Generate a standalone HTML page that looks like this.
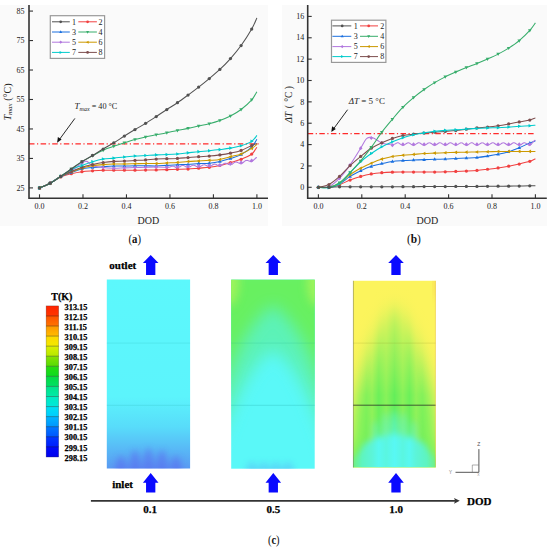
<!DOCTYPE html>
<html><head><meta charset="utf-8"><style>
html,body{margin:0;padding:0;background:#fff;width:550px;height:549px;overflow:hidden}
svg{display:block;font-family:"Liberation Serif", serif}
</style></head><body>
<svg width="550" height="549" viewBox="0 0 550 549">
<defs><linearGradient id="cb0" x1="0" y1="0" x2="0" y2="1"><stop offset="0" stop-color="#ff2400"/><stop offset="1" stop-color="#ff3600"/></linearGradient>
<linearGradient id="cb1" x1="0" y1="0" x2="0" y2="1"><stop offset="0" stop-color="#ff5100"/><stop offset="1" stop-color="#ff7600"/></linearGradient>
<linearGradient id="cb2" x1="0" y1="0" x2="0" y2="1"><stop offset="0" stop-color="#ff9800"/><stop offset="1" stop-color="#ffbd00"/></linearGradient>
<linearGradient id="cb3" x1="0" y1="0" x2="0" y2="1"><stop offset="0" stop-color="#ffd800"/><stop offset="1" stop-color="#f1ea00"/></linearGradient>
<linearGradient id="cb4" x1="0" y1="0" x2="0" y2="1"><stop offset="0" stop-color="#dcee00"/><stop offset="1" stop-color="#b3ea00"/></linearGradient>
<linearGradient id="cb5" x1="0" y1="0" x2="0" y2="1"><stop offset="0" stop-color="#88e100"/><stop offset="1" stop-color="#53dc05"/></linearGradient>
<linearGradient id="cb6" x1="0" y1="0" x2="0" y2="1"><stop offset="0" stop-color="#28dc0c"/><stop offset="1" stop-color="#0bdc23"/></linearGradient>
<linearGradient id="cb7" x1="0" y1="0" x2="0" y2="1"><stop offset="0" stop-color="#04dc40"/><stop offset="1" stop-color="#00e066"/></linearGradient>
<linearGradient id="cb8" x1="0" y1="0" x2="0" y2="1"><stop offset="0" stop-color="#00e588"/><stop offset="1" stop-color="#00e9a9"/></linearGradient>
<linearGradient id="cb9" x1="0" y1="0" x2="0" y2="1"><stop offset="0" stop-color="#00ebc0"/><stop offset="1" stop-color="#00e7db"/></linearGradient>
<linearGradient id="cb10" x1="0" y1="0" x2="0" y2="1"><stop offset="0" stop-color="#00e0f2"/><stop offset="1" stop-color="#00ccff"/></linearGradient>
<linearGradient id="cb11" x1="0" y1="0" x2="0" y2="1"><stop offset="0" stop-color="#00b5ff"/><stop offset="1" stop-color="#0095ff"/></linearGradient>
<linearGradient id="cb12" x1="0" y1="0" x2="0" y2="1"><stop offset="0" stop-color="#0078ff"/><stop offset="1" stop-color="#0055ff"/></linearGradient>
<linearGradient id="cb13" x1="0" y1="0" x2="0" y2="1"><stop offset="0" stop-color="#0038ff"/><stop offset="1" stop-color="#001cfd"/></linearGradient>
<linearGradient id="cb14" x1="0" y1="0" x2="0" y2="1"><stop offset="0" stop-color="#000afa"/><stop offset="1" stop-color="#0000ee"/></linearGradient>
<filter id="bl3" x="-30%" y="-30%" width="160%" height="160%"><feGaussianBlur stdDeviation="3"/></filter>
<filter id="bl5" x="-30%" y="-30%" width="160%" height="160%"><feGaussianBlur stdDeviation="5"/></filter>
<filter id="bl8" x="-40%" y="-40%" width="180%" height="180%"><feGaussianBlur stdDeviation="8"/></filter>
<filter id="bl2" x="-30%" y="-30%" width="160%" height="160%"><feGaussianBlur stdDeviation="1.8"/></filter>
<clipPath id="c1"><rect x="106.8" y="279.5" width="83.3" height="189"/></clipPath>
<clipPath id="c2"><rect x="231.2" y="279.8" width="83.5" height="188.9"/></clipPath>
<clipPath id="c3"><rect x="353.1" y="280.8" width="82.6" height="186.7"/></clipPath>
<linearGradient id="g1" x1="0" y1="279.5" x2="0" y2="468.5" gradientUnits="userSpaceOnUse"><stop offset="0" stop-color="#5cf8fc"/><stop offset="0.62" stop-color="#5cf4fc"/><stop offset="0.78" stop-color="#58dcfa"/><stop offset="0.9" stop-color="#58b8f6"/><stop offset="1" stop-color="#5a9af2"/></linearGradient>
<linearGradient id="s3" x1="353" y1="0" x2="436" y2="0" gradientUnits="userSpaceOnUse"><stop offset="0" stop-color="#8cf25a"/><stop offset="0.07" stop-color="#80f25a"/><stop offset="0.16" stop-color="#78f05a"/><stop offset="0.23" stop-color="#90f25a"/><stop offset="0.31" stop-color="#6cf05a"/><stop offset="0.4" stop-color="#88f25a"/><stop offset="0.5" stop-color="#64ee5a"/><stop offset="0.6" stop-color="#88f25a"/><stop offset="0.68" stop-color="#6cf05a"/><stop offset="0.76" stop-color="#90f25a"/><stop offset="0.84" stop-color="#78f05a"/><stop offset="0.92" stop-color="#80f25a"/><stop offset="1" stop-color="#8cf25a"/></linearGradient>
<linearGradient id="s3c" x1="353" y1="0" x2="436" y2="0" gradientUnits="userSpaceOnUse"><stop offset="0" stop-color="#70f080"/><stop offset="0.11" stop-color="#5ef4c0"/><stop offset="0.23" stop-color="#5cf4d8"/><stop offset="0.31" stop-color="#58f8f0"/><stop offset="0.4" stop-color="#5af6e0"/><stop offset="0.5" stop-color="#58f8f4"/><stop offset="0.6" stop-color="#5af6e0"/><stop offset="0.68" stop-color="#58f8f0"/><stop offset="0.76" stop-color="#5cf4d8"/><stop offset="0.89" stop-color="#5ef4c0"/><stop offset="1" stop-color="#70f080"/></linearGradient>
<mask id="m3g" maskUnits="userSpaceOnUse" x="340" y="270" width="110" height="210"><g filter="url(#bl8)"><path d="M330 490V450L349 440C353 400 366 340 394.4 302C423 340 436 400 440 440L459 450V490Z" fill="#fff"/></g></mask>
<mask id="m3c" maskUnits="userSpaceOnUse" x="340" y="270" width="110" height="210"><g filter="url(#bl3)" fill="#fff"><path d="M340 490V468L359 452C362 444 368 438 394.4 434C421 438 427 444 430 452L449 468V490Z"/><ellipse cx="375" cy="450" rx="3.5" ry="30" opacity="0.6"/><ellipse cx="385.5" cy="450" rx="3.5" ry="38" opacity="0.7"/><ellipse cx="394.4" cy="450" rx="3.5" ry="40" opacity="0.8"/><ellipse cx="403.5" cy="450" rx="3.5" ry="38" opacity="0.7"/><ellipse cx="414" cy="450" rx="3.5" ry="30" opacity="0.6"/></g></mask>
<linearGradient id="yw" x1="0" y1="290" x2="0" y2="395" gradientUnits="userSpaceOnUse"><stop offset="0" stop-color="#fcf45c" stop-opacity="0.75"/><stop offset="0.45" stop-color="#fcf45c" stop-opacity="0.45"/><stop offset="1" stop-color="#fcf45c" stop-opacity="0"/></linearGradient></defs>
<rect width="550" height="549" fill="#fff"/>
<rect x="0" y="5" width="268" height="221" fill="#fafafa"/><rect x="282" y="5" width="265" height="221" fill="#fafafa"/>
<line x1="29" y1="143.9" x2="258.7" y2="143.9" stroke="#FF2A2A" stroke-width="1.4" stroke-dasharray="5.5 2.5 1.2 2.4"/>
<path d="M39.5 187.9 C41.27 187.11 46.57 185 50.11 183.18 C53.65 181.37 57.18 178.57 60.72 177 C64.26 175.42 67.79 174.64 71.33 173.75 C74.87 172.87 78.4 172.18 81.94 171.69 C85.48 171.2 89.01 171.05 92.55 170.81 C96.09 170.56 99.62 170.32 103.16 170.22 C106.7 170.12 110.23 170.22 113.77 170.22 C117.31 170.22 120.84 170.22 124.38 170.22 C127.92 170.22 131.45 170.24 134.99 170.22 C138.53 170.19 142.06 170.12 145.6 170.07 C149.14 170.02 152.67 170 156.21 169.92 C159.75 169.85 163.28 169.73 166.82 169.63 C170.36 169.53 173.89 169.43 177.43 169.33 C180.97 169.24 184.5 169.24 188.04 169.04 C191.58 168.84 195.11 168.45 198.65 168.16 C202.19 167.86 205.72 167.71 209.26 167.27 C212.8 166.83 216.33 166.29 219.87 165.5 C223.41 164.72 226.94 163.59 230.48 162.56 C234.02 161.52 237.55 160.74 241.09 159.31 C244.63 157.89 249.06 156.02 251.7 154.01 C254.33 152 256.03 148.36 256.9 147.23" fill="none" stroke="#F14040" stroke-width="1.05"/>
<circle cx="39.5" cy="187.9" r="1.62" fill="#F14040"/>
<circle cx="50.11" cy="183.18" r="1.62" fill="#F14040"/>
<circle cx="60.72" cy="177" r="1.62" fill="#F14040"/>
<circle cx="71.33" cy="173.75" r="1.62" fill="#F14040"/>
<circle cx="81.94" cy="171.69" r="1.62" fill="#F14040"/>
<circle cx="92.55" cy="170.81" r="1.62" fill="#F14040"/>
<circle cx="103.16" cy="170.22" r="1.62" fill="#F14040"/>
<circle cx="113.77" cy="170.22" r="1.62" fill="#F14040"/>
<circle cx="124.38" cy="170.22" r="1.62" fill="#F14040"/>
<circle cx="134.99" cy="170.22" r="1.62" fill="#F14040"/>
<circle cx="145.6" cy="170.07" r="1.62" fill="#F14040"/>
<circle cx="156.21" cy="169.92" r="1.62" fill="#F14040"/>
<circle cx="166.82" cy="169.63" r="1.62" fill="#F14040"/>
<circle cx="177.43" cy="169.33" r="1.62" fill="#F14040"/>
<circle cx="188.04" cy="169.04" r="1.62" fill="#F14040"/>
<circle cx="198.65" cy="168.16" r="1.62" fill="#F14040"/>
<circle cx="209.26" cy="167.27" r="1.62" fill="#F14040"/>
<circle cx="219.87" cy="165.5" r="1.62" fill="#F14040"/>
<circle cx="230.48" cy="162.56" r="1.62" fill="#F14040"/>
<circle cx="241.09" cy="159.31" r="1.62" fill="#F14040"/>
<circle cx="251.7" cy="154.01" r="1.62" fill="#F14040"/>
<path d="M39.5 187.9 C41.27 187.11 46.57 185.1 50.11 183.18 C53.65 181.27 57.18 178.17 60.72 176.41 C64.26 174.64 67.79 173.85 71.33 172.58 C74.87 171.3 78.4 169.58 81.94 168.74 C85.48 167.91 89.01 167.91 92.55 167.57 C96.09 167.22 99.62 166.93 103.16 166.68 C106.7 166.44 110.23 166.19 113.77 166.09 C117.31 165.99 120.84 166.14 124.38 166.09 C127.92 166.04 131.45 165.85 134.99 165.8 C138.53 165.75 142.06 165.77 145.6 165.8 C149.14 165.82 152.67 166.02 156.21 165.94 C159.75 165.87 163.28 165.55 166.82 165.36 C170.36 165.16 173.89 164.91 177.43 164.77 C180.97 164.62 184.5 164.67 188.04 164.47 C191.58 164.27 195.11 163.81 198.65 163.59 C202.19 163.37 205.72 163.49 209.26 163.15 C212.8 162.8 216.33 162.31 219.87 161.52 C223.41 160.74 226.94 159.58 230.48 158.43 C234.02 157.28 237.55 156.47 241.09 154.6 C244.63 152.73 249.06 149.79 251.7 147.23 C254.33 144.68 256.03 140.6 256.9 139.27" fill="none" stroke="#1A6FDF" stroke-width="1.05"/>
<path d="M39.5 185.92L41.3 189.16L37.7 189.16Z" fill="#1A6FDF"/>
<path d="M50.11 181.2L51.91 184.44L48.31 184.44Z" fill="#1A6FDF"/>
<path d="M60.72 174.43L62.52 177.67L58.92 177.67Z" fill="#1A6FDF"/>
<path d="M71.33 170.6L73.13 173.84L69.53 173.84Z" fill="#1A6FDF"/>
<path d="M81.94 166.76L83.74 170L80.14 170Z" fill="#1A6FDF"/>
<path d="M92.55 165.59L94.35 168.83L90.75 168.83Z" fill="#1A6FDF"/>
<path d="M103.16 164.7L104.96 167.94L101.36 167.94Z" fill="#1A6FDF"/>
<path d="M113.77 164.11L115.57 167.35L111.97 167.35Z" fill="#1A6FDF"/>
<path d="M124.38 164.11L126.18 167.35L122.58 167.35Z" fill="#1A6FDF"/>
<path d="M134.99 163.82L136.79 167.06L133.19 167.06Z" fill="#1A6FDF"/>
<path d="M145.6 163.82L147.4 167.06L143.8 167.06Z" fill="#1A6FDF"/>
<path d="M156.21 163.96L158.01 167.2L154.41 167.2Z" fill="#1A6FDF"/>
<path d="M166.82 163.38L168.62 166.62L165.02 166.62Z" fill="#1A6FDF"/>
<path d="M177.43 162.79L179.23 166.03L175.63 166.03Z" fill="#1A6FDF"/>
<path d="M188.04 162.49L189.84 165.73L186.24 165.73Z" fill="#1A6FDF"/>
<path d="M198.65 161.61L200.45 164.85L196.85 164.85Z" fill="#1A6FDF"/>
<path d="M209.26 161.17L211.06 164.41L207.46 164.41Z" fill="#1A6FDF"/>
<path d="M219.87 159.54L221.67 162.78L218.07 162.78Z" fill="#1A6FDF"/>
<path d="M230.48 156.45L232.28 159.69L228.68 159.69Z" fill="#1A6FDF"/>
<path d="M241.09 152.62L242.89 155.86L239.29 155.86Z" fill="#1A6FDF"/>
<path d="M251.7 145.25L253.5 148.49L249.9 148.49Z" fill="#1A6FDF"/>
<path d="M39.5 187.9 C41.27 187.11 46.57 185.1 50.11 183.18 C53.65 181.27 57.18 178.47 60.72 176.41 C64.26 174.34 67.79 173.02 71.33 170.81 C74.87 168.6 79.38 164.72 81.94 163.15 C84.5 161.57 84.95 160.93 86.71 161.38 C88.48 161.82 89.81 164.77 92.55 165.8 C95.29 166.83 99.62 167.17 103.16 167.57 C106.7 167.96 110.23 168.11 113.77 168.16 C117.31 168.2 120.84 167.96 124.38 167.86 C127.92 167.76 131.45 167.66 134.99 167.57 C138.53 167.47 142.06 167.37 145.6 167.27 C149.14 167.17 152.51 166.97 156.21 166.98 C159.91 166.99 165.72 167.28 167.82 167.33 C169.92 167.38 168.49 167.32 168.82 167.26 C169.15 167.21 169.49 167.12 169.82 167.02 C170.15 166.92 170.49 166.77 170.82 166.66 C171.15 166.54 171.49 166.4 171.82 166.32 C172.15 166.24 172.49 166.17 172.82 166.18 C173.15 166.19 173.49 166.25 173.82 166.37 C174.15 166.48 174.49 166.68 174.82 166.85 C175.15 167.03 175.49 167.26 175.82 167.41 C176.15 167.56 176.49 167.69 176.82 167.74 C177.15 167.8 177.49 167.8 177.82 167.74 C178.15 167.68 178.49 167.55 178.82 167.39 C179.15 167.23 179.49 167 179.82 166.79 C180.15 166.57 180.49 166.32 180.82 166.12 C181.15 165.93 181.49 165.73 181.82 165.62 C182.15 165.5 182.49 165.43 182.82 165.43 C183.15 165.43 183.49 165.51 183.82 165.62 C184.15 165.74 184.49 165.93 184.82 166.11 C185.15 166.3 185.49 166.54 185.82 166.73 C186.15 166.92 186.49 167.12 186.82 167.25 C187.15 167.37 187.49 167.47 187.82 167.48 C188.15 167.5 188.49 167.45 188.82 167.35 C189.15 167.25 189.49 167.07 189.82 166.88 C190.15 166.69 190.49 166.44 190.82 166.23 C191.15 166.01 191.49 165.77 191.82 165.6 C192.15 165.43 192.49 165.28 192.82 165.21 C193.15 165.13 193.49 165.12 193.82 165.17 C194.15 165.22 194.49 165.34 194.82 165.49 C195.15 165.64 195.49 165.86 195.82 166.06 C196.15 166.25 196.49 166.49 196.82 166.66 C197.15 166.83 197.49 167 197.82 167.09 C198.15 167.17 198.49 167.21 198.82 167.18 C199.15 167.14 199.49 167.02 199.82 166.87 C200.15 166.72 200.49 166.5 200.82 166.28 C201.15 166.07 201.49 165.8 201.82 165.58 C202.15 165.37 202.49 165.15 202.82 165 C203.15 164.85 203.49 164.74 203.82 164.71 C204.15 164.67 204.49 164.71 204.82 164.79 C205.15 164.87 205.49 165.04 205.82 165.2 C206.15 165.36 206.49 165.59 206.82 165.78 C207.15 165.96 207.49 166.17 207.82 166.31 C208.15 166.44 208.49 166.56 208.82 166.59 C209.15 166.62 209.49 166.6 209.82 166.51 C210.15 166.43 210.49 166.26 210.82 166.08 C211.15 165.9 211.49 165.64 211.82 165.42 C212.15 165.2 212.49 164.94 212.82 164.74 C213.15 164.55 213.49 164.36 213.82 164.25 C214.15 164.15 214.49 164.09 214.82 164.11 C215.15 164.12 215.49 164.21 215.82 164.33 C216.15 164.45 216.49 164.65 216.82 164.83 C217.15 165.01 217.49 165.24 217.82 165.41 C218.15 165.58 218.49 165.77 218.82 165.87 C219.15 165.97 219.49 166.04 219.82 166.02 C220.15 165.99 220.49 165.88 220.82 165.74 C221.15 165.59 221.49 165.37 221.82 165.14 C222.15 164.92 222.49 164.63 222.82 164.39 C223.15 164.15 223.49 163.89 223.82 163.71 C224.15 163.53 224.49 163.37 224.82 163.29 C225.15 163.21 225.49 163.19 225.82 163.23 C226.15 163.27 226.49 163.39 226.82 163.52 C227.15 163.66 227.49 163.86 227.82 164.03 C228.15 164.19 228.49 164.4 228.82 164.53 C229.15 164.66 229.49 164.78 229.82 164.82 C230.15 164.87 230.49 164.85 230.82 164.77 C231.15 164.7 231.49 164.54 231.82 164.36 C232.15 164.17 232.49 163.92 232.82 163.68 C233.15 163.44 233.49 163.15 233.82 162.93 C234.15 162.7 234.49 162.47 234.82 162.33 C235.15 162.18 235.49 162.07 235.82 162.04 C236.15 162.01 236.49 162.05 236.82 162.13 C237.15 162.21 237.49 162.37 237.82 162.53 C238.15 162.68 238.49 162.89 238.82 163.06 C239.15 163.22 239.49 163.4 239.82 163.5 C240.15 163.6 240.49 163.69 240.82 163.67 C241.15 163.66 241.49 163.56 241.82 163.41 C242.15 163.27 242.49 163.03 242.82 162.79 C243.15 162.55 243.49 162.24 243.82 161.97 C244.15 161.71 244.49 161.4 244.82 161.18 C245.15 160.95 245.49 160.73 245.82 160.6 C246.15 160.47 246.49 160.39 246.82 160.38 C247.15 160.36 247.49 160.43 247.82 160.52 C248.15 160.6 248.49 160.77 248.82 160.91 C249.15 161.04 249.49 161.23 249.82 161.34 C250.15 161.46 250.49 161.58 250.82 161.62 C251.15 161.65 251.49 161.66 251.82 161.54 C252.15 161.43 252.49 161.17 252.82 160.92 C253.15 160.66 253.49 160.32 253.82 159.99 C254.15 159.67 254.49 159.28 254.82 158.95 C255.15 158.63 255.49 158.28 255.82 158.02 C256.15 157.75 256.65 157.48 256.82 157.37" fill="none" stroke="#B177DE" stroke-width="1.05"/>
<path d="M39.5 185.92L41.3 187.9L39.5 189.88L37.7 187.9Z" fill="#B177DE"/>
<path d="M50.11 181.2L51.91 183.18L50.11 185.16L48.31 183.18Z" fill="#B177DE"/>
<path d="M60.72 174.43L62.52 176.41L60.72 178.39L58.92 176.41Z" fill="#B177DE"/>
<path d="M71.33 168.83L73.13 170.81L71.33 172.79L69.53 170.81Z" fill="#B177DE"/>
<path d="M81.94 161.17L83.74 163.15L81.94 165.13L80.14 163.15Z" fill="#B177DE"/>
<path d="M92.55 163.82L94.35 165.8L92.55 167.78L90.75 165.8Z" fill="#B177DE"/>
<path d="M103.16 165.59L104.96 167.57L103.16 169.55L101.36 167.57Z" fill="#B177DE"/>
<path d="M113.77 166.18L115.57 168.16L113.77 170.14L111.97 168.16Z" fill="#B177DE"/>
<path d="M124.38 165.88L126.18 167.86L124.38 169.84L122.58 167.86Z" fill="#B177DE"/>
<path d="M134.99 165.59L136.79 167.57L134.99 169.55L133.19 167.57Z" fill="#B177DE"/>
<path d="M145.6 165.29L147.4 167.27L145.6 169.25L143.8 167.27Z" fill="#B177DE"/>
<path d="M156.21 165L158.01 166.98L156.21 168.96L154.41 166.98Z" fill="#B177DE"/>
<path d="M166.82 165.29L168.62 167.27L166.82 169.25L165.02 167.27Z" fill="#B177DE"/>
<path d="M177.43 164.7L179.23 166.68L177.43 168.66L175.63 166.68Z" fill="#B177DE"/>
<path d="M188.04 164.41L189.84 166.39L188.04 168.37L186.24 166.39Z" fill="#B177DE"/>
<path d="M198.65 164.11L200.45 166.09L198.65 168.07L196.85 166.09Z" fill="#B177DE"/>
<path d="M209.26 163.52L211.06 165.5L209.26 167.48L207.46 165.5Z" fill="#B177DE"/>
<path d="M219.87 162.93L221.67 164.91L219.87 166.89L218.07 164.91Z" fill="#B177DE"/>
<path d="M230.48 161.75L232.28 163.73L230.48 165.71L228.68 163.73Z" fill="#B177DE"/>
<path d="M241.09 160.58L242.89 162.56L241.09 164.54L239.29 162.56Z" fill="#B177DE"/>
<path d="M251.7 158.51L253.5 160.49L251.7 162.47L249.9 160.49Z" fill="#B177DE"/>
<path d="M39.5 187.9 C41.27 187.11 46.57 185.1 50.11 183.18 C53.65 181.27 57.18 178.27 60.72 176.41 C64.26 174.54 67.79 173.36 71.33 171.99 C74.87 170.61 78.4 169.19 81.94 168.16 C85.48 167.12 89.01 166.39 92.55 165.8 C96.09 165.21 99.62 164.91 103.16 164.62 C106.7 164.32 110.23 164.13 113.77 164.03 C117.31 163.93 120.84 164.08 124.38 164.03 C127.92 163.98 131.45 163.83 134.99 163.73 C138.53 163.64 142.06 163.46 145.6 163.44 C149.14 163.42 152.67 163.66 156.21 163.59 C159.75 163.51 163.28 163.19 166.82 163 C170.36 162.8 173.89 162.65 177.43 162.41 C180.97 162.16 184.5 161.77 188.04 161.52 C191.58 161.28 195.11 161.13 198.65 160.93 C202.19 160.74 205.72 160.59 209.26 160.35 C212.8 160.1 216.33 160.08 219.87 159.46 C223.41 158.85 226.94 157.57 230.48 156.66 C234.02 155.75 237.55 155.38 241.09 154.01 C244.63 152.63 249.06 150.03 251.7 148.41 C254.33 146.79 256.03 144.97 256.9 144.28" fill="none" stroke="#CC9900" stroke-width="1.05"/>
<path d="M37.52 187.9L40.76 186.1L40.76 189.7Z" fill="#CC9900"/>
<path d="M48.13 183.18L51.37 181.38L51.37 184.98Z" fill="#CC9900"/>
<path d="M58.74 176.41L61.98 174.61L61.98 178.21Z" fill="#CC9900"/>
<path d="M69.35 171.99L72.59 170.19L72.59 173.79Z" fill="#CC9900"/>
<path d="M79.96 168.16L83.2 166.36L83.2 169.96Z" fill="#CC9900"/>
<path d="M90.57 165.8L93.81 164L93.81 167.6Z" fill="#CC9900"/>
<path d="M101.18 164.62L104.42 162.82L104.42 166.42Z" fill="#CC9900"/>
<path d="M111.79 164.03L115.03 162.23L115.03 165.83Z" fill="#CC9900"/>
<path d="M122.4 164.03L125.64 162.23L125.64 165.83Z" fill="#CC9900"/>
<path d="M133.01 163.73L136.25 161.93L136.25 165.53Z" fill="#CC9900"/>
<path d="M143.62 163.44L146.86 161.64L146.86 165.24Z" fill="#CC9900"/>
<path d="M154.23 163.59L157.47 161.79L157.47 165.39Z" fill="#CC9900"/>
<path d="M164.84 163L168.08 161.2L168.08 164.8Z" fill="#CC9900"/>
<path d="M175.45 162.41L178.69 160.61L178.69 164.21Z" fill="#CC9900"/>
<path d="M186.06 161.52L189.3 159.72L189.3 163.32Z" fill="#CC9900"/>
<path d="M196.67 160.93L199.91 159.13L199.91 162.73Z" fill="#CC9900"/>
<path d="M207.28 160.35L210.52 158.55L210.52 162.15Z" fill="#CC9900"/>
<path d="M217.89 159.46L221.13 157.66L221.13 161.26Z" fill="#CC9900"/>
<path d="M228.5 156.66L231.74 154.86L231.74 158.46Z" fill="#CC9900"/>
<path d="M239.11 154.01L242.35 152.21L242.35 155.81Z" fill="#CC9900"/>
<path d="M249.72 148.41L252.96 146.61L252.96 150.21Z" fill="#CC9900"/>
<path d="M39.5 187.9 C41.27 187.11 46.57 185.1 50.11 183.18 C53.65 181.27 57.18 178.37 60.72 176.41 C64.26 174.44 67.79 172.92 71.33 171.4 C74.87 169.87 78.4 168.4 81.94 167.27 C85.48 166.14 89.01 165.4 92.55 164.62 C96.09 163.83 99.62 163.1 103.16 162.56 C106.7 162.02 110.23 161.62 113.77 161.38 C117.31 161.13 120.84 161.23 124.38 161.08 C127.92 160.93 131.45 160.69 134.99 160.49 C138.53 160.3 142.06 160.15 145.6 159.9 C149.14 159.66 152.67 159.22 156.21 159.02 C159.75 158.82 163.28 158.82 166.82 158.72 C170.36 158.63 173.89 158.63 177.43 158.43 C180.97 158.23 184.5 157.84 188.04 157.55 C191.58 157.25 195.11 156.91 198.65 156.66 C202.19 156.42 205.72 156.37 209.26 156.07 C212.8 155.78 216.33 155.38 219.87 154.89 C223.41 154.4 226.94 153.86 230.48 153.13 C234.02 152.39 237.55 151.75 241.09 150.47 C244.63 149.2 249.06 146.64 251.7 145.46 C254.33 144.28 256.03 143.74 256.9 143.4" fill="none" stroke="#7D4E4E" stroke-width="1.05"/>
<circle cx="39.5" cy="187.9" r="1.62" fill="#7D4E4E"/>
<circle cx="50.11" cy="183.18" r="1.62" fill="#7D4E4E"/>
<circle cx="60.72" cy="176.41" r="1.62" fill="#7D4E4E"/>
<circle cx="71.33" cy="171.4" r="1.62" fill="#7D4E4E"/>
<circle cx="81.94" cy="167.27" r="1.62" fill="#7D4E4E"/>
<circle cx="92.55" cy="164.62" r="1.62" fill="#7D4E4E"/>
<circle cx="103.16" cy="162.56" r="1.62" fill="#7D4E4E"/>
<circle cx="113.77" cy="161.38" r="1.62" fill="#7D4E4E"/>
<circle cx="124.38" cy="161.08" r="1.62" fill="#7D4E4E"/>
<circle cx="134.99" cy="160.49" r="1.62" fill="#7D4E4E"/>
<circle cx="145.6" cy="159.9" r="1.62" fill="#7D4E4E"/>
<circle cx="156.21" cy="159.02" r="1.62" fill="#7D4E4E"/>
<circle cx="166.82" cy="158.72" r="1.62" fill="#7D4E4E"/>
<circle cx="177.43" cy="158.43" r="1.62" fill="#7D4E4E"/>
<circle cx="188.04" cy="157.55" r="1.62" fill="#7D4E4E"/>
<circle cx="198.65" cy="156.66" r="1.62" fill="#7D4E4E"/>
<circle cx="209.26" cy="156.07" r="1.62" fill="#7D4E4E"/>
<circle cx="219.87" cy="154.89" r="1.62" fill="#7D4E4E"/>
<circle cx="230.48" cy="153.13" r="1.62" fill="#7D4E4E"/>
<circle cx="241.09" cy="150.47" r="1.62" fill="#7D4E4E"/>
<circle cx="251.7" cy="145.46" r="1.62" fill="#7D4E4E"/>
<path d="M39.5 187.9 C41.27 187.11 46.57 185.1 50.11 183.18 C53.65 181.27 57.18 178.67 60.72 176.41 C64.26 174.15 67.79 171.45 71.33 169.63 C74.87 167.81 78.4 166.83 81.94 165.5 C85.48 164.18 89.01 162.75 92.55 161.67 C96.09 160.59 99.62 159.61 103.16 159.02 C106.7 158.43 110.23 158.48 113.77 158.14 C117.31 157.79 120.84 157.3 124.38 156.96 C127.92 156.61 131.45 156.32 134.99 156.07 C138.53 155.83 142.06 155.68 145.6 155.48 C149.14 155.29 152.67 155.04 156.21 154.89 C159.75 154.75 163.28 154.75 166.82 154.6 C170.36 154.45 173.89 154.3 177.43 154.01 C180.97 153.71 184.5 153.22 188.04 152.83 C191.58 152.44 195.11 152 198.65 151.65 C202.19 151.31 205.72 151.11 209.26 150.77 C212.8 150.42 216.33 150.03 219.87 149.59 C223.41 149.15 226.94 148.75 230.48 148.12 C234.02 147.48 237.55 146.89 241.09 145.76 C244.63 144.63 249.06 143.06 251.7 141.34 C254.33 139.62 256.03 136.43 256.9 135.44" fill="none" stroke="#00CBCC" stroke-width="1.05"/>
<path d="M41.48 187.9L38.24 186.1L38.24 189.7Z" fill="#00CBCC"/>
<path d="M52.09 183.18L48.85 181.38L48.85 184.98Z" fill="#00CBCC"/>
<path d="M62.7 176.41L59.46 174.61L59.46 178.21Z" fill="#00CBCC"/>
<path d="M73.31 169.63L70.07 167.83L70.07 171.43Z" fill="#00CBCC"/>
<path d="M83.92 165.5L80.68 163.7L80.68 167.3Z" fill="#00CBCC"/>
<path d="M94.53 161.67L91.29 159.87L91.29 163.47Z" fill="#00CBCC"/>
<path d="M105.14 159.02L101.9 157.22L101.9 160.82Z" fill="#00CBCC"/>
<path d="M115.75 158.14L112.51 156.34L112.51 159.94Z" fill="#00CBCC"/>
<path d="M126.36 156.96L123.12 155.16L123.12 158.76Z" fill="#00CBCC"/>
<path d="M136.97 156.07L133.73 154.27L133.73 157.87Z" fill="#00CBCC"/>
<path d="M147.58 155.48L144.34 153.68L144.34 157.28Z" fill="#00CBCC"/>
<path d="M158.19 154.89L154.95 153.09L154.95 156.69Z" fill="#00CBCC"/>
<path d="M168.8 154.6L165.56 152.8L165.56 156.4Z" fill="#00CBCC"/>
<path d="M179.41 154.01L176.17 152.21L176.17 155.81Z" fill="#00CBCC"/>
<path d="M190.02 152.83L186.78 151.03L186.78 154.63Z" fill="#00CBCC"/>
<path d="M200.63 151.65L197.39 149.85L197.39 153.45Z" fill="#00CBCC"/>
<path d="M211.24 150.77L208 148.97L208 152.57Z" fill="#00CBCC"/>
<path d="M221.85 149.59L218.61 147.79L218.61 151.39Z" fill="#00CBCC"/>
<path d="M232.46 148.12L229.22 146.32L229.22 149.92Z" fill="#00CBCC"/>
<path d="M243.07 145.76L239.83 143.96L239.83 147.56Z" fill="#00CBCC"/>
<path d="M253.68 141.34L250.44 139.54L250.44 143.14Z" fill="#00CBCC"/>
<path d="M39.5 187.9 C41.27 187.11 46.57 185.1 50.11 183.18 C53.65 181.27 57.18 178.76 60.72 176.41 C64.26 174.05 67.79 171.5 71.33 169.04 C74.87 166.58 78.4 163.88 81.94 161.67 C85.48 159.46 89.01 157.69 92.55 155.78 C96.09 153.86 99.62 151.75 103.16 150.18 C106.7 148.61 110.23 147.58 113.77 146.35 C117.31 145.12 120.84 143.94 124.38 142.81 C127.92 141.68 131.45 140.55 134.99 139.57 C138.53 138.59 142.06 137.7 145.6 136.92 C149.14 136.13 152.67 135.54 156.21 134.85 C159.75 134.17 163.28 133.53 166.82 132.79 C170.36 132.05 173.89 131.17 177.43 130.43 C180.97 129.7 184.5 129.11 188.04 128.37 C191.58 127.63 195.11 126.8 198.65 126.01 C202.19 125.23 205.72 124.59 209.26 123.66 C212.8 122.72 216.33 121.69 219.87 120.41 C223.41 119.14 226.94 117.81 230.48 115.99 C234.02 114.18 237.55 112.21 241.09 109.51 C244.63 106.81 249.06 102.73 251.7 99.78 C254.33 96.84 256.03 93.15 256.9 91.83" fill="none" stroke="#37AD6B" stroke-width="1.05"/>
<path d="M39.5 189.88L41.3 186.64L37.7 186.64Z" fill="#37AD6B"/>
<path d="M50.11 185.16L51.91 181.92L48.31 181.92Z" fill="#37AD6B"/>
<path d="M60.72 178.39L62.52 175.15L58.92 175.15Z" fill="#37AD6B"/>
<path d="M71.33 171.02L73.13 167.78L69.53 167.78Z" fill="#37AD6B"/>
<path d="M81.94 163.65L83.74 160.41L80.14 160.41Z" fill="#37AD6B"/>
<path d="M92.55 157.76L94.35 154.52L90.75 154.52Z" fill="#37AD6B"/>
<path d="M103.16 152.16L104.96 148.92L101.36 148.92Z" fill="#37AD6B"/>
<path d="M113.77 148.33L115.57 145.09L111.97 145.09Z" fill="#37AD6B"/>
<path d="M124.38 144.79L126.18 141.55L122.58 141.55Z" fill="#37AD6B"/>
<path d="M134.99 141.55L136.79 138.31L133.19 138.31Z" fill="#37AD6B"/>
<path d="M145.6 138.9L147.4 135.66L143.8 135.66Z" fill="#37AD6B"/>
<path d="M156.21 136.83L158.01 133.59L154.41 133.59Z" fill="#37AD6B"/>
<path d="M166.82 134.77L168.62 131.53L165.02 131.53Z" fill="#37AD6B"/>
<path d="M177.43 132.41L179.23 129.17L175.63 129.17Z" fill="#37AD6B"/>
<path d="M188.04 130.35L189.84 127.11L186.24 127.11Z" fill="#37AD6B"/>
<path d="M198.65 127.99L200.45 124.75L196.85 124.75Z" fill="#37AD6B"/>
<path d="M209.26 125.64L211.06 122.4L207.46 122.4Z" fill="#37AD6B"/>
<path d="M219.87 122.39L221.67 119.15L218.07 119.15Z" fill="#37AD6B"/>
<path d="M230.48 117.97L232.28 114.73L228.68 114.73Z" fill="#37AD6B"/>
<path d="M241.09 111.49L242.89 108.25L239.29 108.25Z" fill="#37AD6B"/>
<path d="M251.7 101.76L253.5 98.52L249.9 98.52Z" fill="#37AD6B"/>
<path d="M39.5 187.9 C41.27 187.11 46.57 185.1 50.11 183.18 C53.65 181.27 57.18 178.76 60.72 176.41 C64.26 174.05 67.79 171.5 71.33 169.04 C74.87 166.58 78.4 163.93 81.94 161.67 C85.48 159.41 89.01 157.6 92.55 155.48 C96.09 153.37 99.62 151.11 103.16 149 C106.7 146.89 110.23 144.97 113.77 142.81 C117.31 140.65 120.84 138.24 124.38 136.03 C127.92 133.82 131.45 131.66 134.99 129.55 C138.53 127.44 142.06 125.52 145.6 123.36 C149.14 121.2 152.67 118.89 156.21 116.58 C159.75 114.27 163.28 111.82 166.82 109.51 C170.36 107.2 173.89 105.14 177.43 102.73 C180.97 100.32 184.5 97.67 188.04 95.07 C191.58 92.47 195.11 89.86 198.65 87.11 C202.19 84.36 205.72 81.51 209.26 78.57 C212.8 75.62 216.33 72.77 219.87 69.43 C223.41 66.09 226.94 62.51 230.48 58.53 C234.02 54.55 237.55 50.47 241.09 45.56 C244.63 40.65 249.06 33.67 251.7 29.06 C254.33 24.44 256.03 19.72 256.9 17.86" fill="none" stroke="#515151" stroke-width="1.05"/>
<circle cx="39.5" cy="187.9" r="1.62" fill="#515151"/>
<circle cx="50.11" cy="183.18" r="1.62" fill="#515151"/>
<circle cx="60.72" cy="176.41" r="1.62" fill="#515151"/>
<circle cx="71.33" cy="169.04" r="1.62" fill="#515151"/>
<circle cx="81.94" cy="161.67" r="1.62" fill="#515151"/>
<circle cx="92.55" cy="155.48" r="1.62" fill="#515151"/>
<circle cx="103.16" cy="149" r="1.62" fill="#515151"/>
<circle cx="113.77" cy="142.81" r="1.62" fill="#515151"/>
<circle cx="124.38" cy="136.03" r="1.62" fill="#515151"/>
<circle cx="134.99" cy="129.55" r="1.62" fill="#515151"/>
<circle cx="145.6" cy="123.36" r="1.62" fill="#515151"/>
<circle cx="156.21" cy="116.58" r="1.62" fill="#515151"/>
<circle cx="166.82" cy="109.51" r="1.62" fill="#515151"/>
<circle cx="177.43" cy="102.73" r="1.62" fill="#515151"/>
<circle cx="188.04" cy="95.07" r="1.62" fill="#515151"/>
<circle cx="198.65" cy="87.11" r="1.62" fill="#515151"/>
<circle cx="209.26" cy="78.57" r="1.62" fill="#515151"/>
<circle cx="219.87" cy="69.43" r="1.62" fill="#515151"/>
<circle cx="230.48" cy="58.53" r="1.62" fill="#515151"/>
<circle cx="241.09" cy="45.56" r="1.62" fill="#515151"/>
<circle cx="251.7" cy="29.06" r="1.62" fill="#515151"/>
<path d="M29 5V198.3H268" fill="none" stroke="#333" stroke-width="1.6"/>
<line x1="29" y1="187.9" x2="33" y2="187.9" stroke="#333" stroke-width="1.1"/>
<text x="24.5" y="190.6" text-anchor="end" font-size="8" fill="#222">25</text>
<line x1="29" y1="158.43" x2="33" y2="158.43" stroke="#333" stroke-width="1.1"/>
<text x="24.5" y="161.13" text-anchor="end" font-size="8" fill="#222">35</text>
<line x1="29" y1="128.96" x2="33" y2="128.96" stroke="#333" stroke-width="1.1"/>
<text x="24.5" y="131.66" text-anchor="end" font-size="8" fill="#222">45</text>
<line x1="29" y1="99.49" x2="33" y2="99.49" stroke="#333" stroke-width="1.1"/>
<text x="24.5" y="102.19" text-anchor="end" font-size="8" fill="#222">55</text>
<line x1="29" y1="70.02" x2="33" y2="70.02" stroke="#333" stroke-width="1.1"/>
<text x="24.5" y="72.72" text-anchor="end" font-size="8" fill="#222">65</text>
<line x1="29" y1="40.55" x2="33" y2="40.55" stroke="#333" stroke-width="1.1"/>
<text x="24.5" y="43.25" text-anchor="end" font-size="8" fill="#222">75</text>
<line x1="29" y1="11.08" x2="33" y2="11.08" stroke="#333" stroke-width="1.1"/>
<text x="24.5" y="13.78" text-anchor="end" font-size="8" fill="#222">85</text>
<line x1="39.5" y1="198.3" x2="39.5" y2="194.3" stroke="#333" stroke-width="1.1"/>
<text x="39.5" y="208.6" text-anchor="middle" font-size="8" fill="#222">0.0</text>
<line x1="82.98" y1="198.3" x2="82.98" y2="194.3" stroke="#333" stroke-width="1.1"/>
<text x="82.98" y="208.6" text-anchor="middle" font-size="8" fill="#222">0.2</text>
<line x1="126.46" y1="198.3" x2="126.46" y2="194.3" stroke="#333" stroke-width="1.1"/>
<text x="126.46" y="208.6" text-anchor="middle" font-size="8" fill="#222">0.4</text>
<line x1="169.94" y1="198.3" x2="169.94" y2="194.3" stroke="#333" stroke-width="1.1"/>
<text x="169.94" y="208.6" text-anchor="middle" font-size="8" fill="#222">0.6</text>
<line x1="213.42" y1="198.3" x2="213.42" y2="194.3" stroke="#333" stroke-width="1.1"/>
<text x="213.42" y="208.6" text-anchor="middle" font-size="8" fill="#222">0.8</text>
<line x1="256.9" y1="198.3" x2="256.9" y2="194.3" stroke="#333" stroke-width="1.1"/>
<text x="256.9" y="208.6" text-anchor="middle" font-size="8" fill="#222">1.0</text>
<text x="148.3" y="224.2" text-anchor="middle" font-size="10" fill="#222">DOD</text>
<text x="128.5" y="242.9" font-size="12.5" fill="#111" textLength="12.5" lengthAdjust="spacingAndGlyphs">(<tspan font-weight="bold">a</tspan>)</text>
<g transform="translate(10.6,102) rotate(-90)"><text x="0" y="0" text-anchor="middle" font-size="10" fill="#222"><tspan font-style="italic">T</tspan><tspan font-style="italic" font-size="7" dy="1.8">max</tspan><tspan dy="-1.8"> (°C)</tspan></text></g>
<text x="74.6" y="109.3" font-size="9" fill="#222"><tspan font-style="italic">T</tspan><tspan font-style="italic" font-size="6" dy="1.5">max</tspan><tspan dy="-1.5" font-size="8.2"> = 40 °C</tspan></text>
<line x1="74.9" y1="118.4" x2="59.5" y2="139.4" stroke="#111" stroke-width="0.9"/>
<path d="M57.1 142.7L57.9 136.9L61.6 139.6Z" fill="#111"/>
<rect x="50.3" y="15.7" width="54.3" height="42.7" fill="#fff" stroke="#999" stroke-width="1.2"/>
<line x1="52" y1="21.8" x2="69.8" y2="21.8" stroke="#515151" stroke-width="1"/>
<circle cx="60.7" cy="21.8" r="1.35" fill="#515151"/>
<text x="72" y="24.6" font-size="8" fill="#222">1</text>
<line x1="78.3" y1="21.8" x2="96.9" y2="21.8" stroke="#F14040" stroke-width="1"/>
<circle cx="87.6" cy="21.8" r="1.35" fill="#F14040"/>
<text x="98.5" y="24.6" font-size="8" fill="#222">2</text>
<line x1="52" y1="32" x2="69.8" y2="32" stroke="#1A6FDF" stroke-width="1"/>
<path d="M60.7 30.35L62.2 33.05L59.2 33.05Z" fill="#1A6FDF"/>
<text x="72" y="34.8" font-size="8" fill="#222">3</text>
<line x1="78.3" y1="32" x2="96.9" y2="32" stroke="#37AD6B" stroke-width="1"/>
<path d="M87.6 33.65L89.1 30.95L86.1 30.95Z" fill="#37AD6B"/>
<text x="98.5" y="34.8" font-size="8" fill="#222">4</text>
<line x1="52" y1="42.2" x2="69.8" y2="42.2" stroke="#B177DE" stroke-width="1"/>
<path d="M60.7 40.55L62.2 42.2L60.7 43.85L59.2 42.2Z" fill="#B177DE"/>
<text x="72" y="45" font-size="8" fill="#222">5</text>
<line x1="78.3" y1="42.2" x2="96.9" y2="42.2" stroke="#CC9900" stroke-width="1"/>
<path d="M85.95 42.2L88.65 40.7L88.65 43.7Z" fill="#CC9900"/>
<text x="98.5" y="45" font-size="8" fill="#222">6</text>
<line x1="52" y1="52.4" x2="69.8" y2="52.4" stroke="#00CBCC" stroke-width="1"/>
<path d="M62.35 52.4L59.65 50.9L59.65 53.9Z" fill="#00CBCC"/>
<text x="72" y="55.2" font-size="8" fill="#222">7</text>
<line x1="78.3" y1="52.4" x2="96.9" y2="52.4" stroke="#7D4E4E" stroke-width="1"/>
<circle cx="87.6" cy="52.4" r="1.35" fill="#7D4E4E"/>
<text x="98.5" y="55.2" font-size="8" fill="#222">8</text>
<line x1="307.7" y1="133.6" x2="534.5" y2="133.6" stroke="#FF2A2A" stroke-width="1.4" stroke-dasharray="5.5 2.5 1.2 2.4"/>
<path d="M318.4 187.3 C320.16 187.3 325.45 187.75 328.97 187.3 C332.49 186.86 336.02 185.84 339.54 184.63 C343.06 183.42 346.59 181.41 350.11 180.04 C353.63 178.67 357.16 177.42 360.68 176.41 C364.2 175.39 367.73 174.57 371.25 173.95 C374.77 173.33 378.3 172.97 381.82 172.67 C385.34 172.37 388.87 172.24 392.39 172.13 C395.91 172.03 399.44 172.05 402.96 172.03 C406.48 172.01 410.01 172.03 413.53 172.03 C417.05 172.03 420.58 172.03 424.1 172.03 C427.62 172.03 431.15 172.06 434.67 172.03 C438.19 171.99 441.72 171.9 445.24 171.81 C448.76 171.73 452.29 171.62 455.81 171.49 C459.33 171.37 462.86 171.24 466.38 171.07 C469.9 170.89 473.43 170.73 476.95 170.43 C480.47 170.12 484 169.66 487.52 169.25 C491.04 168.84 494.57 168.49 498.09 167.97 C501.61 167.45 505.14 166.81 508.66 166.15 C512.18 165.5 515.71 164.82 519.23 164.02 C522.75 163.22 527.11 162.22 529.8 161.35 C532.49 160.48 534.47 159.21 535.4 158.78" fill="none" stroke="#F14040" stroke-width="1.05"/>
<circle cx="318.4" cy="187.3" r="1.62" fill="#F14040"/>
<circle cx="328.97" cy="187.3" r="1.62" fill="#F14040"/>
<circle cx="339.54" cy="184.63" r="1.62" fill="#F14040"/>
<circle cx="350.11" cy="180.04" r="1.62" fill="#F14040"/>
<circle cx="360.68" cy="176.41" r="1.62" fill="#F14040"/>
<circle cx="371.25" cy="173.95" r="1.62" fill="#F14040"/>
<circle cx="381.82" cy="172.67" r="1.62" fill="#F14040"/>
<circle cx="392.39" cy="172.13" r="1.62" fill="#F14040"/>
<circle cx="402.96" cy="172.03" r="1.62" fill="#F14040"/>
<circle cx="413.53" cy="172.03" r="1.62" fill="#F14040"/>
<circle cx="424.1" cy="172.03" r="1.62" fill="#F14040"/>
<circle cx="434.67" cy="172.03" r="1.62" fill="#F14040"/>
<circle cx="445.24" cy="171.81" r="1.62" fill="#F14040"/>
<circle cx="455.81" cy="171.49" r="1.62" fill="#F14040"/>
<circle cx="466.38" cy="171.07" r="1.62" fill="#F14040"/>
<circle cx="476.95" cy="170.43" r="1.62" fill="#F14040"/>
<circle cx="487.52" cy="169.25" r="1.62" fill="#F14040"/>
<circle cx="498.09" cy="167.97" r="1.62" fill="#F14040"/>
<circle cx="508.66" cy="166.15" r="1.62" fill="#F14040"/>
<circle cx="519.23" cy="164.02" r="1.62" fill="#F14040"/>
<circle cx="529.8" cy="161.35" r="1.62" fill="#F14040"/>
<path d="M318.4 187.3 C320.16 187.3 325.45 187.83 328.97 187.3 C332.49 186.77 336.02 185.91 339.54 184.1 C343.06 182.28 346.59 178.61 350.11 176.41 C353.63 174.2 357.16 172.53 360.68 170.85 C364.2 169.18 367.73 167.58 371.25 166.37 C374.77 165.16 378.3 164.41 381.82 163.59 C385.34 162.77 388.87 161.95 392.39 161.45 C395.91 160.96 399.44 160.83 402.96 160.6 C406.48 160.37 410.01 160.23 413.53 160.07 C417.05 159.91 420.58 159.76 424.1 159.64 C427.62 159.51 431.15 159.43 434.67 159.32 C438.19 159.21 441.72 159.14 445.24 159 C448.76 158.86 452.29 158.62 455.81 158.46 C459.33 158.3 462.86 158.2 466.38 158.04 C469.9 157.88 473.43 157.82 476.95 157.5 C480.47 157.18 484 156.65 487.52 156.11 C491.04 155.58 494.57 155.03 498.09 154.3 C501.61 153.57 505.14 152.84 508.66 151.74 C512.18 150.63 515.71 149.14 519.23 147.68 C522.75 146.22 527.11 144.12 529.8 142.98 C532.49 141.84 534.47 141.2 535.4 140.84" fill="none" stroke="#1A6FDF" stroke-width="1.05"/>
<path d="M318.4 185.32L320.2 188.56L316.6 188.56Z" fill="#1A6FDF"/>
<path d="M328.97 185.32L330.77 188.56L327.17 188.56Z" fill="#1A6FDF"/>
<path d="M339.54 182.12L341.34 185.36L337.74 185.36Z" fill="#1A6FDF"/>
<path d="M350.11 174.43L351.91 177.67L348.31 177.67Z" fill="#1A6FDF"/>
<path d="M360.68 168.87L362.48 172.11L358.88 172.11Z" fill="#1A6FDF"/>
<path d="M371.25 164.39L373.05 167.63L369.45 167.63Z" fill="#1A6FDF"/>
<path d="M381.82 161.61L383.62 164.85L380.02 164.85Z" fill="#1A6FDF"/>
<path d="M392.39 159.47L394.19 162.71L390.59 162.71Z" fill="#1A6FDF"/>
<path d="M402.96 158.62L404.76 161.86L401.16 161.86Z" fill="#1A6FDF"/>
<path d="M413.53 158.09L415.33 161.33L411.73 161.33Z" fill="#1A6FDF"/>
<path d="M424.1 157.66L425.9 160.9L422.3 160.9Z" fill="#1A6FDF"/>
<path d="M434.67 157.34L436.47 160.58L432.87 160.58Z" fill="#1A6FDF"/>
<path d="M445.24 157.02L447.04 160.26L443.44 160.26Z" fill="#1A6FDF"/>
<path d="M455.81 156.48L457.61 159.72L454.01 159.72Z" fill="#1A6FDF"/>
<path d="M466.38 156.06L468.18 159.3L464.58 159.3Z" fill="#1A6FDF"/>
<path d="M476.95 155.52L478.75 158.76L475.15 158.76Z" fill="#1A6FDF"/>
<path d="M487.52 154.13L489.32 157.37L485.72 157.37Z" fill="#1A6FDF"/>
<path d="M498.09 152.32L499.89 155.56L496.29 155.56Z" fill="#1A6FDF"/>
<path d="M508.66 149.76L510.46 153L506.86 153Z" fill="#1A6FDF"/>
<path d="M519.23 145.7L521.03 148.94L517.43 148.94Z" fill="#1A6FDF"/>
<path d="M529.8 141L531.6 144.24L528 144.24Z" fill="#1A6FDF"/>
<path d="M318.4 187.3 C320.16 187.21 325.45 188.28 328.97 186.77 C332.49 185.25 336.02 181.87 339.54 178.22 C343.06 174.57 346.59 169.87 350.11 164.87 C353.63 159.87 358.04 152.48 360.68 148.21 C363.32 143.94 364.47 141.06 365.96 139.24 C367.46 137.42 368.43 137.53 369.66 137.32 C370.9 137.1 372.04 137.42 373.36 137.96 C374.69 138.49 376.18 139.67 377.59 140.52 C379 141.38 380.23 142.44 381.82 143.08 C383.41 143.73 385.52 144.21 387.1 144.37 C388.69 144.53 390.46 144.06 391.33 144.05 C392.2 144.03 392 144.2 392.33 144.26 C392.67 144.32 393 144.41 393.33 144.41 C393.67 144.42 394 144.4 394.33 144.31 C394.67 144.22 395 144.06 395.33 143.89 C395.67 143.72 396 143.48 396.33 143.29 C396.67 143.1 397 142.85 397.33 142.77 C397.67 142.7 398 142.75 398.33 142.84 C398.67 142.94 399 143.13 399.33 143.33 C399.67 143.53 400 143.82 400.33 144.06 C400.67 144.3 401 144.58 401.33 144.78 C401.67 144.98 402 145.17 402.33 145.26 C402.67 145.35 403 145.37 403.33 145.31 C403.67 145.26 404 145.11 404.33 144.94 C404.67 144.76 405 144.49 405.33 144.25 C405.67 144.01 406 143.72 406.33 143.5 C406.67 143.28 407 143.06 407.33 142.93 C407.67 142.81 408 142.74 408.33 142.75 C408.67 142.76 409 142.86 409.33 143.01 C409.67 143.15 410 143.4 410.33 143.63 C410.67 143.85 411 144.15 411.33 144.39 C411.67 144.62 412 144.87 412.33 145.03 C412.67 145.19 413 145.31 413.33 145.34 C413.67 145.37 414 145.31 414.33 145.2 C414.67 145.09 415 144.88 415.33 144.67 C415.67 144.46 416 144.16 416.33 143.92 C416.67 143.68 417 143.41 417.33 143.22 C417.67 143.03 418 142.87 418.33 142.8 C418.67 142.73 419 142.73 419.33 142.81 C419.67 142.88 420 143.05 420.33 143.24 C420.67 143.43 421 143.71 421.33 143.95 C421.67 144.19 422 144.48 422.33 144.69 C422.67 144.9 423 145.11 423.33 145.21 C423.67 145.32 424 145.37 424.33 145.33 C424.67 145.3 425 145.17 425.33 145.01 C425.67 144.85 426 144.59 426.33 144.36 C426.67 144.12 427 143.83 427.33 143.6 C427.67 143.37 428 143.13 428.33 142.99 C428.67 142.85 429 142.75 429.33 142.75 C429.67 142.74 430 142.82 430.33 142.95 C430.67 143.08 431 143.3 431.33 143.52 C431.67 143.75 432 144.04 432.33 144.28 C432.67 144.52 433 144.78 433.33 144.96 C433.67 145.13 434 145.27 434.33 145.32 C434.67 145.37 435 145.34 435.33 145.25 C435.67 145.15 436 144.96 436.33 144.76 C436.67 144.56 437 144.27 437.33 144.03 C437.67 143.79 438 143.5 438.33 143.3 C438.67 143.11 439 142.92 439.33 142.83 C439.67 142.75 440 142.72 440.33 142.78 C440.67 142.83 441 142.98 441.33 143.16 C441.67 143.34 442 143.6 442.33 143.84 C442.67 144.08 443 144.38 443.33 144.6 C443.67 144.82 444 145.04 444.33 145.16 C444.67 145.29 445 145.36 445.33 145.34 C445.67 145.33 446 145.23 446.33 145.08 C446.67 144.93 447 144.69 447.33 144.46 C447.67 144.23 448 143.94 448.33 143.7 C448.67 143.47 449 143.22 449.33 143.06 C449.67 142.9 450 142.78 450.33 142.75 C450.67 142.73 451 142.78 451.33 142.89 C451.67 143.01 452 143.21 452.33 143.43 C452.67 143.64 453 143.93 453.33 144.17 C453.67 144.42 454 144.69 454.33 144.88 C454.67 145.06 455 145.23 455.33 145.29 C455.67 145.36 456 145.36 456.33 145.28 C456.67 145.21 457 145.04 457.33 144.85 C457.67 144.66 458 144.38 458.33 144.14 C458.67 143.9 459 143.61 459.33 143.4 C459.67 143.19 460 142.98 460.33 142.88 C460.67 142.77 461 142.72 461.33 142.76 C461.67 142.79 462 142.92 462.33 143.08 C462.67 143.25 463 143.5 463.33 143.74 C463.67 143.97 464 144.27 464.33 144.5 C464.67 144.72 465 144.96 465.33 145.1 C465.67 145.24 466 145.34 466.33 145.35 C466.67 145.35 467 145.27 467.33 145.14 C467.67 145.01 468 144.79 468.33 144.56 C468.67 144.34 469 144.05 469.33 143.81 C469.67 143.57 470 143.31 470.33 143.13 C470.67 142.96 471 142.82 471.33 142.77 C471.67 142.72 472 142.75 472.33 142.85 C472.67 142.94 473 143.13 473.33 143.33 C473.67 143.54 474 143.82 474.33 144.07 C474.67 144.31 475 144.59 475.33 144.79 C475.67 144.99 476 145.17 476.33 145.26 C476.67 145.35 477 145.37 477.33 145.31 C477.67 145.26 478 145.11 478.33 144.93 C478.67 144.75 479 144.49 479.33 144.25 C479.67 144.01 480 143.71 480.33 143.49 C480.67 143.27 481 143.05 481.33 142.93 C481.67 142.8 482 142.73 482.33 142.75 C482.67 142.76 483 142.87 483.33 143.01 C483.67 143.16 484 143.4 484.33 143.63 C484.67 143.86 485 144.16 485.33 144.39 C485.67 144.63 486 144.88 486.33 145.04 C486.67 145.19 487 145.31 487.33 145.34 C487.67 145.36 488 145.31 488.33 145.2 C488.67 145.08 489 144.88 489.33 144.66 C489.67 144.45 490 144.16 490.33 143.91 C490.67 143.67 491 143.4 491.33 143.21 C491.67 143.03 492 142.86 492.33 142.8 C492.67 142.73 493 142.73 493.33 142.81 C493.67 142.88 494 143.06 494.33 143.25 C494.67 143.44 495 143.72 495.33 143.96 C495.67 144.2 496 144.49 496.33 144.7 C496.67 144.91 497 145.11 497.33 145.22 C497.67 145.32 498 145.37 498.33 145.33 C498.67 145.3 499 145.17 499.33 145.01 C499.67 144.84 500 144.59 500.33 144.35 C500.67 144.12 501 143.82 501.33 143.59 C501.67 143.36 502 143.13 502.33 142.99 C502.67 142.85 503 142.75 503.33 142.75 C503.67 142.74 504 142.82 504.33 142.95 C504.67 143.08 505 143.31 505.33 143.53 C505.67 143.75 506 144.05 506.33 144.29 C506.67 144.53 507 144.79 507.33 144.96 C507.67 145.13 508 145.27 508.33 145.32 C508.67 145.37 509 145.34 509.33 145.24 C509.67 145.15 510 144.96 510.33 144.75 C510.67 144.55 511 144.27 511.33 144.02 C511.67 143.78 512 143.5 512.33 143.3 C512.67 143.1 513 142.92 513.33 142.83 C513.67 142.74 514 142.72 514.33 142.78 C514.67 142.84 515 142.99 515.33 143.16 C515.67 143.34 516 143.61 516.33 143.85 C516.67 144.09 517 144.38 517.33 144.6 C517.67 144.82 518 145.04 518.33 145.17 C518.67 145.29 519 145.36 519.33 145.34 C519.67 145.33 520 145.22 520.33 145.08 C520.67 144.93 521 144.69 521.33 144.46 C521.67 144.23 522 143.93 522.33 143.69 C522.67 143.46 523 143.21 523.33 143.05 C523.67 142.9 524 142.78 524.33 142.75 C524.67 142.73 525 142.78 525.33 142.9 C525.67 143.01 526 143.22 526.33 143.43 C526.67 143.65 527 143.94 527.33 144.18 C527.67 144.42 528 144.7 528.33 144.88 C528.67 145.07 529 145.27 529.33 145.3 C529.67 145.32 530 145.22 530.33 145.03 C530.67 144.83 531 144.46 531.33 144.11 C531.67 143.76 532 143.32 532.33 142.92 C532.67 142.52 533 142.07 533.33 141.71 C533.67 141.34 534 140.98 534.33 140.71 C534.67 140.45 535.17 140.22 535.33 140.12" fill="none" stroke="#B177DE" stroke-width="1.05"/>
<path d="M318.4 185.32L320.2 187.3L318.4 189.28L316.6 187.3Z" fill="#B177DE"/>
<path d="M328.97 184.79L330.77 186.77L328.97 188.75L327.17 186.77Z" fill="#B177DE"/>
<path d="M339.54 176.24L341.34 178.22L339.54 180.2L337.74 178.22Z" fill="#B177DE"/>
<path d="M350.11 162.89L351.91 164.87L350.11 166.85L348.31 164.87Z" fill="#B177DE"/>
<path d="M360.68 146.23L362.48 148.21L360.68 150.19L358.88 148.21Z" fill="#B177DE"/>
<path d="M371.25 135.98L373.05 137.96L371.25 139.94L369.45 137.96Z" fill="#B177DE"/>
<path d="M381.82 141.1L383.62 143.08L381.82 145.06L380.02 143.08Z" fill="#B177DE"/>
<path d="M392.39 143.35L394.19 145.33L392.39 147.31L390.59 145.33Z" fill="#B177DE"/>
<path d="M402.96 142.28L404.76 144.26L402.96 146.24L401.16 144.26Z" fill="#B177DE"/>
<path d="M413.53 142.28L415.33 144.26L413.53 146.24L411.73 144.26Z" fill="#B177DE"/>
<path d="M424.1 142.28L425.9 144.26L424.1 146.24L422.3 144.26Z" fill="#B177DE"/>
<path d="M434.67 142.28L436.47 144.26L434.67 146.24L432.87 144.26Z" fill="#B177DE"/>
<path d="M445.24 142.28L447.04 144.26L445.24 146.24L443.44 144.26Z" fill="#B177DE"/>
<path d="M455.81 142.28L457.61 144.26L455.81 146.24L454.01 144.26Z" fill="#B177DE"/>
<path d="M466.38 142.28L468.18 144.26L466.38 146.24L464.58 144.26Z" fill="#B177DE"/>
<path d="M476.95 142.28L478.75 144.26L476.95 146.24L475.15 144.26Z" fill="#B177DE"/>
<path d="M487.52 142.28L489.32 144.26L487.52 146.24L485.72 144.26Z" fill="#B177DE"/>
<path d="M498.09 142.28L499.89 144.26L498.09 146.24L496.29 144.26Z" fill="#B177DE"/>
<path d="M508.66 142.28L510.46 144.26L508.66 146.24L506.86 144.26Z" fill="#B177DE"/>
<path d="M519.23 142.28L521.03 144.26L519.23 146.24L517.43 144.26Z" fill="#B177DE"/>
<path d="M529.8 142.28L531.6 144.26L529.8 146.24L528 144.26Z" fill="#B177DE"/>
<path d="M318.4 187.3 C320.16 187.3 325.45 187.92 328.97 187.3 C332.49 186.68 336.02 185.7 339.54 183.56 C343.06 181.43 346.59 177.05 350.11 174.48 C353.63 171.92 357.16 170.05 360.68 168.18 C364.2 166.31 367.73 164.78 371.25 163.27 C374.77 161.76 378.3 160.24 381.82 159.1 C385.34 157.97 388.87 157.08 392.39 156.43 C395.91 155.79 399.44 155.6 402.96 155.26 C406.48 154.92 410.01 154.69 413.53 154.41 C417.05 154.12 420.58 153.76 424.1 153.55 C427.62 153.34 431.15 153.27 434.67 153.12 C438.19 152.98 441.72 152.82 445.24 152.7 C448.76 152.57 452.29 152.47 455.81 152.38 C459.33 152.29 462.86 152.23 466.38 152.16 C469.9 152.09 473.43 152.02 476.95 151.95 C480.47 151.88 484 151.81 487.52 151.74 C491.04 151.66 494.57 151.58 498.09 151.52 C501.61 151.47 505.14 151.43 508.66 151.42 C512.18 151.4 515.71 151.42 519.23 151.42 C522.75 151.42 527.11 151.42 529.8 151.42 C532.49 151.42 534.47 151.42 535.4 151.42" fill="none" stroke="#CC9900" stroke-width="1.05"/>
<path d="M316.42 187.3L319.66 185.5L319.66 189.1Z" fill="#CC9900"/>
<path d="M326.99 187.3L330.23 185.5L330.23 189.1Z" fill="#CC9900"/>
<path d="M337.56 183.56L340.8 181.76L340.8 185.36Z" fill="#CC9900"/>
<path d="M348.13 174.48L351.37 172.68L351.37 176.28Z" fill="#CC9900"/>
<path d="M358.7 168.18L361.94 166.38L361.94 169.98Z" fill="#CC9900"/>
<path d="M369.27 163.27L372.51 161.47L372.51 165.07Z" fill="#CC9900"/>
<path d="M379.84 159.1L383.08 157.3L383.08 160.9Z" fill="#CC9900"/>
<path d="M390.41 156.43L393.65 154.63L393.65 158.23Z" fill="#CC9900"/>
<path d="M400.98 155.26L404.22 153.46L404.22 157.06Z" fill="#CC9900"/>
<path d="M411.55 154.41L414.79 152.61L414.79 156.21Z" fill="#CC9900"/>
<path d="M422.12 153.55L425.36 151.75L425.36 155.35Z" fill="#CC9900"/>
<path d="M432.69 153.12L435.93 151.32L435.93 154.92Z" fill="#CC9900"/>
<path d="M443.26 152.7L446.5 150.9L446.5 154.5Z" fill="#CC9900"/>
<path d="M453.83 152.38L457.07 150.58L457.07 154.18Z" fill="#CC9900"/>
<path d="M464.4 152.16L467.64 150.36L467.64 153.96Z" fill="#CC9900"/>
<path d="M474.97 151.95L478.21 150.15L478.21 153.75Z" fill="#CC9900"/>
<path d="M485.54 151.74L488.78 149.94L488.78 153.54Z" fill="#CC9900"/>
<path d="M496.11 151.52L499.35 149.72L499.35 153.32Z" fill="#CC9900"/>
<path d="M506.68 151.42L509.92 149.62L509.92 153.22Z" fill="#CC9900"/>
<path d="M517.25 151.42L520.49 149.62L520.49 153.22Z" fill="#CC9900"/>
<path d="M527.82 151.42L531.06 149.62L531.06 153.22Z" fill="#CC9900"/>
<path d="M318.4 187.3 C320.16 186.84 325.45 186.34 328.97 184.52 C332.49 182.71 336.02 179.57 339.54 176.41 C343.06 173.24 346.59 168.84 350.11 165.51 C353.63 162.18 357.16 159.32 360.68 156.43 C364.2 153.55 367.73 150.49 371.25 148.21 C374.77 145.93 378.3 144.38 381.82 142.76 C385.34 141.14 388.87 139.7 392.39 138.49 C395.91 137.28 399.44 136.23 402.96 135.5 C406.48 134.77 410.01 134.52 413.53 134.11 C417.05 133.7 420.58 133.37 424.1 133.05 C427.62 132.73 431.15 132.46 434.67 132.19 C438.19 131.92 441.72 131.71 445.24 131.44 C448.76 131.18 452.29 130.96 455.81 130.59 C459.33 130.22 462.86 129.65 466.38 129.2 C469.9 128.76 473.43 128.28 476.95 127.92 C480.47 127.56 484 127.42 487.52 127.06 C491.04 126.71 494.57 126.3 498.09 125.78 C501.61 125.27 505.14 124.61 508.66 123.97 C512.18 123.33 515.71 122.6 519.23 121.94 C522.75 121.28 527.11 120.69 529.8 120.02 C532.49 119.34 534.47 118.24 535.4 117.88" fill="none" stroke="#7D4E4E" stroke-width="1.05"/>
<circle cx="318.4" cy="187.3" r="1.62" fill="#7D4E4E"/>
<circle cx="328.97" cy="184.52" r="1.62" fill="#7D4E4E"/>
<circle cx="339.54" cy="176.41" r="1.62" fill="#7D4E4E"/>
<circle cx="350.11" cy="165.51" r="1.62" fill="#7D4E4E"/>
<circle cx="360.68" cy="156.43" r="1.62" fill="#7D4E4E"/>
<circle cx="371.25" cy="148.21" r="1.62" fill="#7D4E4E"/>
<circle cx="381.82" cy="142.76" r="1.62" fill="#7D4E4E"/>
<circle cx="392.39" cy="138.49" r="1.62" fill="#7D4E4E"/>
<circle cx="402.96" cy="135.5" r="1.62" fill="#7D4E4E"/>
<circle cx="413.53" cy="134.11" r="1.62" fill="#7D4E4E"/>
<circle cx="424.1" cy="133.05" r="1.62" fill="#7D4E4E"/>
<circle cx="434.67" cy="132.19" r="1.62" fill="#7D4E4E"/>
<circle cx="445.24" cy="131.44" r="1.62" fill="#7D4E4E"/>
<circle cx="455.81" cy="130.59" r="1.62" fill="#7D4E4E"/>
<circle cx="466.38" cy="129.2" r="1.62" fill="#7D4E4E"/>
<circle cx="476.95" cy="127.92" r="1.62" fill="#7D4E4E"/>
<circle cx="487.52" cy="127.06" r="1.62" fill="#7D4E4E"/>
<circle cx="498.09" cy="125.78" r="1.62" fill="#7D4E4E"/>
<circle cx="508.66" cy="123.97" r="1.62" fill="#7D4E4E"/>
<circle cx="519.23" cy="121.94" r="1.62" fill="#7D4E4E"/>
<circle cx="529.8" cy="120.02" r="1.62" fill="#7D4E4E"/>
<path d="M318.4 187.3 C320.16 187.35 325.45 188.24 328.97 187.62 C332.49 187 336.02 186.05 339.54 183.56 C343.06 181.07 346.59 176.3 350.11 172.67 C353.63 169.04 357.16 164.96 360.68 161.77 C364.2 158.59 367.73 156.06 371.25 153.55 C374.77 151.04 378.3 148.67 381.82 146.72 C385.34 144.76 388.87 143.32 392.39 141.8 C395.91 140.29 399.44 138.81 402.96 137.64 C406.48 136.46 410.01 135.56 413.53 134.75 C417.05 133.95 420.58 133.4 424.1 132.83 C427.62 132.26 431.15 131.75 434.67 131.34 C438.19 130.93 441.72 130.62 445.24 130.38 C448.76 130.13 452.29 130.07 455.81 129.84 C459.33 129.61 462.86 129.22 466.38 128.99 C469.9 128.76 473.43 128.63 476.95 128.45 C480.47 128.28 484 128.04 487.52 127.92 C491.04 127.79 494.57 127.85 498.09 127.71 C501.61 127.56 505.14 127.3 508.66 127.06 C512.18 126.83 515.71 126.53 519.23 126.32 C522.75 126.1 527.11 125.96 529.8 125.78 C532.49 125.61 534.47 125.34 535.4 125.25" fill="none" stroke="#00CBCC" stroke-width="1.05"/>
<path d="M320.38 187.3L317.14 185.5L317.14 189.1Z" fill="#00CBCC"/>
<path d="M330.95 187.62L327.71 185.82L327.71 189.42Z" fill="#00CBCC"/>
<path d="M341.52 183.56L338.28 181.76L338.28 185.36Z" fill="#00CBCC"/>
<path d="M352.09 172.67L348.85 170.87L348.85 174.47Z" fill="#00CBCC"/>
<path d="M362.66 161.77L359.42 159.97L359.42 163.57Z" fill="#00CBCC"/>
<path d="M373.23 153.55L369.99 151.75L369.99 155.35Z" fill="#00CBCC"/>
<path d="M383.8 146.72L380.56 144.92L380.56 148.52Z" fill="#00CBCC"/>
<path d="M394.37 141.8L391.13 140L391.13 143.6Z" fill="#00CBCC"/>
<path d="M404.94 137.64L401.7 135.84L401.7 139.44Z" fill="#00CBCC"/>
<path d="M415.51 134.75L412.27 132.95L412.27 136.55Z" fill="#00CBCC"/>
<path d="M426.08 132.83L422.84 131.03L422.84 134.63Z" fill="#00CBCC"/>
<path d="M436.65 131.34L433.41 129.54L433.41 133.14Z" fill="#00CBCC"/>
<path d="M447.22 130.38L443.98 128.58L443.98 132.18Z" fill="#00CBCC"/>
<path d="M457.79 129.84L454.55 128.04L454.55 131.64Z" fill="#00CBCC"/>
<path d="M468.36 128.99L465.12 127.19L465.12 130.79Z" fill="#00CBCC"/>
<path d="M478.93 128.45L475.69 126.65L475.69 130.25Z" fill="#00CBCC"/>
<path d="M489.5 127.92L486.26 126.12L486.26 129.72Z" fill="#00CBCC"/>
<path d="M500.07 127.71L496.83 125.91L496.83 129.51Z" fill="#00CBCC"/>
<path d="M510.64 127.06L507.4 125.26L507.4 128.86Z" fill="#00CBCC"/>
<path d="M521.21 126.32L517.97 124.52L517.97 128.12Z" fill="#00CBCC"/>
<path d="M531.78 125.78L528.54 123.98L528.54 127.58Z" fill="#00CBCC"/>
<path d="M318.4 187.3 C320.16 187.3 325.45 188.07 328.97 187.3 C332.49 186.53 336.02 185.15 339.54 182.71 C343.06 180.27 346.59 176.3 350.11 172.67 C353.63 169.04 357.16 165.14 360.68 160.92 C364.2 156.7 367.73 152.15 371.25 147.36 C374.77 142.57 378.3 136.87 381.82 132.19 C385.34 127.51 388.87 123.43 392.39 119.27 C395.91 115.1 399.44 110.81 402.96 107.2 C406.48 103.59 410.01 100.54 413.53 97.59 C417.05 94.63 420.58 91.96 424.1 89.47 C427.62 86.98 431.15 84.74 434.67 82.64 C438.19 80.54 441.72 78.63 445.24 76.87 C448.76 75.11 452.29 73.61 455.81 72.06 C459.33 70.51 462.86 69.02 466.38 67.58 C469.9 66.14 473.43 64.85 476.95 63.41 C480.47 61.97 484 60.48 487.52 58.93 C491.04 57.38 494.57 55.92 498.09 54.12 C501.61 52.32 505.14 50.38 508.66 48.14 C512.18 45.9 515.71 43.62 519.23 40.66 C522.75 37.71 527.11 33.37 529.8 30.41 C532.49 27.46 534.47 24.18 535.4 22.93" fill="none" stroke="#37AD6B" stroke-width="1.05"/>
<path d="M318.4 189.28L320.2 186.04L316.6 186.04Z" fill="#37AD6B"/>
<path d="M328.97 189.28L330.77 186.04L327.17 186.04Z" fill="#37AD6B"/>
<path d="M339.54 184.69L341.34 181.45L337.74 181.45Z" fill="#37AD6B"/>
<path d="M350.11 174.65L351.91 171.41L348.31 171.41Z" fill="#37AD6B"/>
<path d="M360.68 162.9L362.48 159.66L358.88 159.66Z" fill="#37AD6B"/>
<path d="M371.25 149.34L373.05 146.1L369.45 146.1Z" fill="#37AD6B"/>
<path d="M381.82 134.17L383.62 130.93L380.02 130.93Z" fill="#37AD6B"/>
<path d="M392.39 121.25L394.19 118.01L390.59 118.01Z" fill="#37AD6B"/>
<path d="M402.96 109.18L404.76 105.94L401.16 105.94Z" fill="#37AD6B"/>
<path d="M413.53 99.57L415.33 96.33L411.73 96.33Z" fill="#37AD6B"/>
<path d="M424.1 91.45L425.9 88.21L422.3 88.21Z" fill="#37AD6B"/>
<path d="M434.67 84.62L436.47 81.38L432.87 81.38Z" fill="#37AD6B"/>
<path d="M445.24 78.85L447.04 75.61L443.44 75.61Z" fill="#37AD6B"/>
<path d="M455.81 74.04L457.61 70.8L454.01 70.8Z" fill="#37AD6B"/>
<path d="M466.38 69.56L468.18 66.32L464.58 66.32Z" fill="#37AD6B"/>
<path d="M476.95 65.39L478.75 62.15L475.15 62.15Z" fill="#37AD6B"/>
<path d="M487.52 60.91L489.32 57.67L485.72 57.67Z" fill="#37AD6B"/>
<path d="M498.09 56.1L499.89 52.86L496.29 52.86Z" fill="#37AD6B"/>
<path d="M508.66 50.12L510.46 46.88L506.86 46.88Z" fill="#37AD6B"/>
<path d="M519.23 42.64L521.03 39.4L517.43 39.4Z" fill="#37AD6B"/>
<path d="M529.8 32.39L531.6 29.15L528 29.15Z" fill="#37AD6B"/>
<path d="M318.4 187.3 C320.16 187.3 325.45 187.39 328.97 187.3 C332.49 187.21 336.02 186.86 339.54 186.77 C343.06 186.68 346.59 186.77 350.11 186.77 C353.63 186.77 357.16 186.77 360.68 186.77 C364.2 186.77 367.73 186.77 371.25 186.77 C374.77 186.77 378.3 186.77 381.82 186.77 C385.34 186.77 388.87 186.78 392.39 186.77 C395.91 186.75 399.44 186.68 402.96 186.66 C406.48 186.64 410.01 186.68 413.53 186.66 C417.05 186.64 420.58 186.57 424.1 186.55 C427.62 186.53 431.15 186.55 434.67 186.55 C438.19 186.55 441.72 186.57 445.24 186.55 C448.76 186.53 452.29 186.46 455.81 186.45 C459.33 186.43 462.86 186.45 466.38 186.45 C469.9 186.45 473.43 186.46 476.95 186.45 C480.47 186.43 484 186.37 487.52 186.34 C491.04 186.3 494.57 186.27 498.09 186.23 C501.61 186.2 505.14 186.16 508.66 186.13 C512.18 186.09 515.71 186.07 519.23 186.02 C522.75 185.97 527.11 185.86 529.8 185.8 C532.49 185.75 534.47 185.72 535.4 185.7" fill="none" stroke="#515151" stroke-width="1.05"/>
<circle cx="318.4" cy="187.3" r="1.62" fill="#515151"/>
<circle cx="328.97" cy="187.3" r="1.62" fill="#515151"/>
<circle cx="339.54" cy="186.77" r="1.62" fill="#515151"/>
<circle cx="350.11" cy="186.77" r="1.62" fill="#515151"/>
<circle cx="360.68" cy="186.77" r="1.62" fill="#515151"/>
<circle cx="371.25" cy="186.77" r="1.62" fill="#515151"/>
<circle cx="381.82" cy="186.77" r="1.62" fill="#515151"/>
<circle cx="392.39" cy="186.77" r="1.62" fill="#515151"/>
<circle cx="402.96" cy="186.66" r="1.62" fill="#515151"/>
<circle cx="413.53" cy="186.66" r="1.62" fill="#515151"/>
<circle cx="424.1" cy="186.55" r="1.62" fill="#515151"/>
<circle cx="434.67" cy="186.55" r="1.62" fill="#515151"/>
<circle cx="445.24" cy="186.55" r="1.62" fill="#515151"/>
<circle cx="455.81" cy="186.45" r="1.62" fill="#515151"/>
<circle cx="466.38" cy="186.45" r="1.62" fill="#515151"/>
<circle cx="476.95" cy="186.45" r="1.62" fill="#515151"/>
<circle cx="487.52" cy="186.34" r="1.62" fill="#515151"/>
<circle cx="498.09" cy="186.23" r="1.62" fill="#515151"/>
<circle cx="508.66" cy="186.13" r="1.62" fill="#515151"/>
<circle cx="519.23" cy="186.02" r="1.62" fill="#515151"/>
<circle cx="529.8" cy="185.8" r="1.62" fill="#515151"/>
<path d="M307.7 5V198.3H546.8" fill="none" stroke="#333" stroke-width="1.6"/>
<line x1="307.7" y1="187.3" x2="311.7" y2="187.3" stroke="#333" stroke-width="1.1"/>
<text x="304.3" y="190" text-anchor="end" font-size="8" fill="#222">0</text>
<line x1="307.7" y1="165.94" x2="311.7" y2="165.94" stroke="#333" stroke-width="1.1"/>
<text x="304.3" y="168.64" text-anchor="end" font-size="8" fill="#222">2</text>
<line x1="307.7" y1="144.58" x2="311.7" y2="144.58" stroke="#333" stroke-width="1.1"/>
<text x="304.3" y="147.28" text-anchor="end" font-size="8" fill="#222">4</text>
<line x1="307.7" y1="123.22" x2="311.7" y2="123.22" stroke="#333" stroke-width="1.1"/>
<text x="304.3" y="125.92" text-anchor="end" font-size="8" fill="#222">6</text>
<line x1="307.7" y1="101.86" x2="311.7" y2="101.86" stroke="#333" stroke-width="1.1"/>
<text x="304.3" y="104.56" text-anchor="end" font-size="8" fill="#222">8</text>
<line x1="307.7" y1="80.5" x2="311.7" y2="80.5" stroke="#333" stroke-width="1.1"/>
<text x="304.3" y="83.2" text-anchor="end" font-size="8" fill="#222">10</text>
<line x1="307.7" y1="59.14" x2="311.7" y2="59.14" stroke="#333" stroke-width="1.1"/>
<text x="304.3" y="61.84" text-anchor="end" font-size="8" fill="#222">12</text>
<line x1="307.7" y1="37.78" x2="311.7" y2="37.78" stroke="#333" stroke-width="1.1"/>
<text x="304.3" y="40.48" text-anchor="end" font-size="8" fill="#222">14</text>
<line x1="307.7" y1="16.42" x2="311.7" y2="16.42" stroke="#333" stroke-width="1.1"/>
<text x="304.3" y="19.12" text-anchor="end" font-size="8" fill="#222">16</text>
<line x1="318.4" y1="198.3" x2="318.4" y2="194.3" stroke="#333" stroke-width="1.1"/>
<text x="318.4" y="208.6" text-anchor="middle" font-size="8" fill="#222">0.0</text>
<line x1="361.8" y1="198.3" x2="361.8" y2="194.3" stroke="#333" stroke-width="1.1"/>
<text x="361.8" y="208.6" text-anchor="middle" font-size="8" fill="#222">0.2</text>
<line x1="405.2" y1="198.3" x2="405.2" y2="194.3" stroke="#333" stroke-width="1.1"/>
<text x="405.2" y="208.6" text-anchor="middle" font-size="8" fill="#222">0.4</text>
<line x1="448.6" y1="198.3" x2="448.6" y2="194.3" stroke="#333" stroke-width="1.1"/>
<text x="448.6" y="208.6" text-anchor="middle" font-size="8" fill="#222">0.6</text>
<line x1="492" y1="198.3" x2="492" y2="194.3" stroke="#333" stroke-width="1.1"/>
<text x="492" y="208.6" text-anchor="middle" font-size="8" fill="#222">0.8</text>
<line x1="535.4" y1="198.3" x2="535.4" y2="194.3" stroke="#333" stroke-width="1.1"/>
<text x="535.4" y="208.6" text-anchor="middle" font-size="8" fill="#222">1.0</text>
<text x="427.3" y="224.2" text-anchor="middle" font-size="10" fill="#222">DOD</text>
<text x="406.9" y="242.9" font-size="12.5" fill="#111" textLength="14" lengthAdjust="spacingAndGlyphs">(<tspan font-weight="bold">b</tspan>)</text>
<g transform="translate(291.5,122.8) rotate(-90)"><text x="0" y="0" font-size="9.5" fill="#222"><tspan font-style="italic">ΔT</tspan><tspan dx="3.8">(</tspan><tspan dx="3.2">°C</tspan><tspan dx="2.4">)</tspan></text></g>
<text x="348.7" y="103.6" font-size="9" fill="#222"><tspan font-style="italic">ΔT</tspan> = 5 °C</text>
<line x1="347.6" y1="109.7" x2="333.6" y2="128.8" stroke="#111" stroke-width="0.9"/>
<path d="M331.3 132L332.1 126.2L335.8 128.9Z" fill="#111"/>
<rect x="331.5" y="20.2" width="54.4" height="42.2" fill="#fff" stroke="#999" stroke-width="1.2"/>
<line x1="332.4" y1="25.9" x2="351.3" y2="25.9" stroke="#515151" stroke-width="1"/>
<circle cx="342.2" cy="25.9" r="1.35" fill="#515151"/>
<text x="353.8" y="28.7" font-size="8" fill="#222">1</text>
<line x1="360" y1="25.9" x2="378" y2="25.9" stroke="#F14040" stroke-width="1"/>
<circle cx="368.7" cy="25.9" r="1.35" fill="#F14040"/>
<text x="380.3" y="28.7" font-size="8" fill="#222">2</text>
<line x1="332.4" y1="36.3" x2="351.3" y2="36.3" stroke="#1A6FDF" stroke-width="1"/>
<path d="M342.2 34.65L343.7 37.35L340.7 37.35Z" fill="#1A6FDF"/>
<text x="353.8" y="39.1" font-size="8" fill="#222">3</text>
<line x1="360" y1="36.3" x2="378" y2="36.3" stroke="#37AD6B" stroke-width="1"/>
<path d="M368.7 37.95L370.2 35.25L367.2 35.25Z" fill="#37AD6B"/>
<text x="380.3" y="39.1" font-size="8" fill="#222">4</text>
<line x1="332.4" y1="46.6" x2="351.3" y2="46.6" stroke="#B177DE" stroke-width="1"/>
<path d="M342.2 44.95L343.7 46.6L342.2 48.25L340.7 46.6Z" fill="#B177DE"/>
<text x="353.8" y="49.4" font-size="8" fill="#222">5</text>
<line x1="360" y1="46.6" x2="378" y2="46.6" stroke="#CC9900" stroke-width="1"/>
<path d="M367.05 46.6L369.75 45.1L369.75 48.1Z" fill="#CC9900"/>
<text x="380.3" y="49.4" font-size="8" fill="#222">6</text>
<line x1="332.4" y1="56.6" x2="351.3" y2="56.6" stroke="#00CBCC" stroke-width="1"/>
<path d="M343.85 56.6L341.15 55.1L341.15 58.1Z" fill="#00CBCC"/>
<text x="353.8" y="59.4" font-size="8" fill="#222">7</text>
<line x1="360" y1="56.6" x2="378" y2="56.6" stroke="#7D4E4E" stroke-width="1"/>
<circle cx="368.7" cy="56.6" r="1.35" fill="#7D4E4E"/>
<text x="380.3" y="59.4" font-size="8" fill="#222">8</text>
<rect x="46.1" y="305.9" width="12.6" height="10.27" fill="url(#cb0)"/>
<rect x="46.1" y="315.97" width="12.6" height="10.27" fill="url(#cb1)"/>
<rect x="46.1" y="326.03" width="12.6" height="10.27" fill="url(#cb2)"/>
<rect x="46.1" y="336.1" width="12.6" height="10.27" fill="url(#cb3)"/>
<rect x="46.1" y="346.17" width="12.6" height="10.27" fill="url(#cb4)"/>
<rect x="46.1" y="356.23" width="12.6" height="10.27" fill="url(#cb5)"/>
<rect x="46.1" y="366.3" width="12.6" height="10.27" fill="url(#cb6)"/>
<rect x="46.1" y="376.37" width="12.6" height="10.27" fill="url(#cb7)"/>
<rect x="46.1" y="386.43" width="12.6" height="10.27" fill="url(#cb8)"/>
<rect x="46.1" y="396.5" width="12.6" height="10.27" fill="url(#cb9)"/>
<rect x="46.1" y="406.57" width="12.6" height="10.27" fill="url(#cb10)"/>
<rect x="46.1" y="416.63" width="12.6" height="10.27" fill="url(#cb11)"/>
<rect x="46.1" y="426.7" width="12.6" height="10.27" fill="url(#cb12)"/>
<rect x="46.1" y="436.77" width="12.6" height="10.27" fill="url(#cb13)"/>
<rect x="46.1" y="446.83" width="12.6" height="10.27" fill="url(#cb14)"/>
<line x1="46.1" y1="315.97" x2="58.7" y2="315.97" stroke="#1a1a1a" stroke-opacity="0.55" stroke-width="0.7"/>
<line x1="46.1" y1="326.03" x2="58.7" y2="326.03" stroke="#1a1a1a" stroke-opacity="0.55" stroke-width="0.7"/>
<line x1="46.1" y1="336.1" x2="58.7" y2="336.1" stroke="#1a1a1a" stroke-opacity="0.55" stroke-width="0.7"/>
<line x1="46.1" y1="346.17" x2="58.7" y2="346.17" stroke="#1a1a1a" stroke-opacity="0.55" stroke-width="0.7"/>
<line x1="46.1" y1="356.23" x2="58.7" y2="356.23" stroke="#1a1a1a" stroke-opacity="0.55" stroke-width="0.7"/>
<line x1="46.1" y1="366.3" x2="58.7" y2="366.3" stroke="#1a1a1a" stroke-opacity="0.55" stroke-width="0.7"/>
<line x1="46.1" y1="376.37" x2="58.7" y2="376.37" stroke="#1a1a1a" stroke-opacity="0.55" stroke-width="0.7"/>
<line x1="46.1" y1="386.43" x2="58.7" y2="386.43" stroke="#1a1a1a" stroke-opacity="0.55" stroke-width="0.7"/>
<line x1="46.1" y1="396.5" x2="58.7" y2="396.5" stroke="#1a1a1a" stroke-opacity="0.55" stroke-width="0.7"/>
<line x1="46.1" y1="406.57" x2="58.7" y2="406.57" stroke="#1a1a1a" stroke-opacity="0.55" stroke-width="0.7"/>
<line x1="46.1" y1="416.63" x2="58.7" y2="416.63" stroke="#1a1a1a" stroke-opacity="0.55" stroke-width="0.7"/>
<line x1="46.1" y1="426.7" x2="58.7" y2="426.7" stroke="#1a1a1a" stroke-opacity="0.55" stroke-width="0.7"/>
<line x1="46.1" y1="436.77" x2="58.7" y2="436.77" stroke="#1a1a1a" stroke-opacity="0.55" stroke-width="0.7"/>
<line x1="46.1" y1="446.83" x2="58.7" y2="446.83" stroke="#1a1a1a" stroke-opacity="0.55" stroke-width="0.7"/>
<rect x="46.1" y="305.9" width="12.6" height="151" fill="none" stroke="#333" stroke-opacity="0.5" stroke-width="0.5"/>
<text x="61.8" y="300.2" text-anchor="middle" font-size="10" font-weight="bold" fill="#000" stroke="#000" stroke-width="0.25">T(K)</text>
<text x="64.6" y="310.1" font-size="8.3" font-weight="bold" fill="#000" stroke="#000" stroke-width="0.25">313.15</text>
<text x="64.6" y="320.13" font-size="8.3" font-weight="bold" fill="#000" stroke="#000" stroke-width="0.25">312.15</text>
<text x="64.6" y="330.16" font-size="8.3" font-weight="bold" fill="#000" stroke="#000" stroke-width="0.25">311.15</text>
<text x="64.6" y="340.19" font-size="8.3" font-weight="bold" fill="#000" stroke="#000" stroke-width="0.25">310.15</text>
<text x="64.6" y="350.22" font-size="8.3" font-weight="bold" fill="#000" stroke="#000" stroke-width="0.25">309.15</text>
<text x="64.6" y="360.25" font-size="8.3" font-weight="bold" fill="#000" stroke="#000" stroke-width="0.25">308.15</text>
<text x="64.6" y="370.28" font-size="8.3" font-weight="bold" fill="#000" stroke="#000" stroke-width="0.25">307.15</text>
<text x="64.6" y="380.31" font-size="8.3" font-weight="bold" fill="#000" stroke="#000" stroke-width="0.25">306.15</text>
<text x="64.6" y="390.34" font-size="8.3" font-weight="bold" fill="#000" stroke="#000" stroke-width="0.25">305.15</text>
<text x="64.6" y="400.37" font-size="8.3" font-weight="bold" fill="#000" stroke="#000" stroke-width="0.25">304.15</text>
<text x="64.6" y="410.4" font-size="8.3" font-weight="bold" fill="#000" stroke="#000" stroke-width="0.25">303.15</text>
<text x="64.6" y="420.43" font-size="8.3" font-weight="bold" fill="#000" stroke="#000" stroke-width="0.25">302.15</text>
<text x="64.6" y="430.46" font-size="8.3" font-weight="bold" fill="#000" stroke="#000" stroke-width="0.25">301.15</text>
<text x="64.6" y="440.49" font-size="8.3" font-weight="bold" fill="#000" stroke="#000" stroke-width="0.25">300.15</text>
<text x="64.6" y="450.52" font-size="8.3" font-weight="bold" fill="#000" stroke="#000" stroke-width="0.25">299.15</text>
<text x="64.6" y="460.55" font-size="8.3" font-weight="bold" fill="#000" stroke="#000" stroke-width="0.25">298.15</text>
<rect x="106.8" y="279.5" width="83.3" height="189" fill="url(#g1)"/>
<g clip-path="url(#c1)"><g filter="url(#bl3)" fill="#5a60ee" opacity="0.5">
<ellipse cx="121" cy="474" rx="6" ry="18"/>
<ellipse cx="135" cy="474" rx="6" ry="24"/>
<ellipse cx="148.5" cy="474" rx="6" ry="26"/>
<ellipse cx="162" cy="474" rx="6" ry="24"/>
<ellipse cx="176" cy="474" rx="6" ry="18"/>
</g></g>
<line x1="106.8" y1="343.1" x2="190.1" y2="343.1" stroke="#2aa" stroke-opacity="0.3" stroke-width="0.6"/>
<line x1="106.8" y1="405.3" x2="190.1" y2="405.3" stroke="#2aa" stroke-opacity="0.3" stroke-width="0.7"/>
<rect x="231.2" y="279.8" width="83.5" height="188.9" fill="#5af8f8"/>
<g clip-path="url(#c2)">
<g filter="url(#bl8)"><path d="M215 265H330V455C318 420 300 365 272.9 350C246 365 228 420 215 455Z" fill="#5cf2b8"/></g>
<g filter="url(#bl8)"><path d="M215 265H330V412C318 370 302 325 272.9 305C244 325 228 370 215 412Z" fill="#68f060"/></g>
<g filter="url(#bl5)" fill="#a8f45a" opacity="0.85"><ellipse cx="229" cy="282" rx="10" ry="24"/><ellipse cx="317" cy="282" rx="10" ry="24"/></g>
<g filter="url(#bl3)" fill="#58b0f6" opacity="0.45">
<ellipse cx="252" cy="472" rx="6" ry="10"/>
<ellipse cx="264" cy="472" rx="6" ry="10"/>
<ellipse cx="276" cy="472" rx="6" ry="10"/>
<ellipse cx="288" cy="472" rx="6" ry="10"/>
</g></g>
<line x1="231.2" y1="343.1" x2="314.7" y2="343.1" stroke="#2a8" stroke-opacity="0.3" stroke-width="0.6"/>
<line x1="231.2" y1="405.3" x2="314.7" y2="405.3" stroke="#2aa" stroke-opacity="0.4" stroke-width="0.7"/>
<rect x="353.1" y="280.8" width="82.6" height="186.7" fill="#fcf45c"/>
<g clip-path="url(#c3)">
<rect x="353.1" y="280.8" width="82.6" height="186.7" fill="url(#s3)" mask="url(#m3g)"/>
<rect x="353.1" y="280.8" width="82.6" height="186.7" fill="url(#s3c)" mask="url(#m3c)"/>
<rect x="353.1" y="280.8" width="82.6" height="120" fill="url(#yw)"/>
<g filter="url(#bl5)" fill="#f8c050" opacity="0.5"><ellipse cx="437" cy="285" rx="3" ry="14"/></g>
</g>
<line x1="353.1" y1="343.1" x2="435.7" y2="343.1" stroke="#8a8a20" stroke-opacity="0.3" stroke-width="0.6"/>
<line x1="353.1" y1="405.2" x2="435.7" y2="405.2" stroke="#222" stroke-opacity="0.8" stroke-width="0.9"/>
<line x1="353.4" y1="280.8" x2="353.4" y2="467.5" stroke="#555" stroke-opacity="0.6" stroke-width="0.7"/>
<line x1="435.4" y1="280.8" x2="435.4" y2="467.5" stroke="#e0a040" stroke-opacity="0.4" stroke-width="0.8"/>
<path d="M150.7 254.9L158.5 263L155.35 263L155.35 274.9L146.05 274.9L146.05 263L142.9 263Z" fill="#0a0aff"/>
<path d="M150.7 473L158.5 482.8L155.35 482.8L155.35 492.6L146.05 492.6L146.05 482.8L142.9 482.8Z" fill="#0a0aff"/>
<path d="M273.3 254.9L281.1 263L277.95 263L277.95 274.9L268.65 274.9L268.65 263L265.5 263Z" fill="#0a0aff"/>
<path d="M273.3 473L281.1 482.8L277.95 482.8L277.95 492.6L268.65 492.6L268.65 482.8L265.5 482.8Z" fill="#0a0aff"/>
<path d="M396 254.9L403.8 263L400.65 263L400.65 274.9L391.35 274.9L391.35 263L388.2 263Z" fill="#0a0aff"/>
<path d="M396 473L403.8 482.8L400.65 482.8L400.65 492.6L391.35 492.6L391.35 482.8L388.2 482.8Z" fill="#0a0aff"/>
<text x="109.3" y="269.3" font-size="11" font-weight="bold" fill="#000" stroke="#000" stroke-width="0.25">outlet</text>
<text x="112.2" y="488.3" font-size="11" font-weight="bold" fill="#000" stroke="#000" stroke-width="0.25">inlet</text>
<line x1="90.9" y1="500.8" x2="455.5" y2="500.8" stroke="#333" stroke-width="1.7"/>
<path d="M459.8 500.8L454 497.9L455.2 500.8L454 503.7Z" fill="#333"/>
<text x="467" y="504.6" font-size="11" font-weight="bold" fill="#000" stroke="#000" stroke-width="0.25">DOD</text>
<text x="150.2" y="512.6" text-anchor="middle" font-size="11" font-weight="bold" fill="#000" stroke="#000" stroke-width="0.25">0.1</text>
<text x="273.3" y="512.6" text-anchor="middle" font-size="11" font-weight="bold" fill="#000" stroke="#000" stroke-width="0.25">0.5</text>
<text x="396" y="512.6" text-anchor="middle" font-size="11" font-weight="bold" fill="#000" stroke="#000" stroke-width="0.25">1.0</text>
<text x="267.9" y="543.6" font-size="12.5" fill="#111" textLength="11.7" lengthAdjust="spacingAndGlyphs">(<tspan font-weight="bold">c</tspan>)</text>
<path d="M455.5 472.3H478.9V449.1" fill="none" stroke="#555" stroke-width="1"/>
<path d="M472.3 472.3V465H478.9" fill="none" stroke="#777" stroke-width="0.6"/>
<text x="478.9" y="445.6" text-anchor="middle" font-family="Liberation Sans, sans-serif" font-size="5" fill="#555">Z</text>
<text x="450.5" y="474.2" text-anchor="middle" font-family="Liberation Sans, sans-serif" font-size="4.5" fill="#777">Y</text>
<text x="478.5" y="476.2" text-anchor="middle" font-family="Liberation Sans, sans-serif" font-size="3.5" fill="#999">X</text>
</svg></body></html>
